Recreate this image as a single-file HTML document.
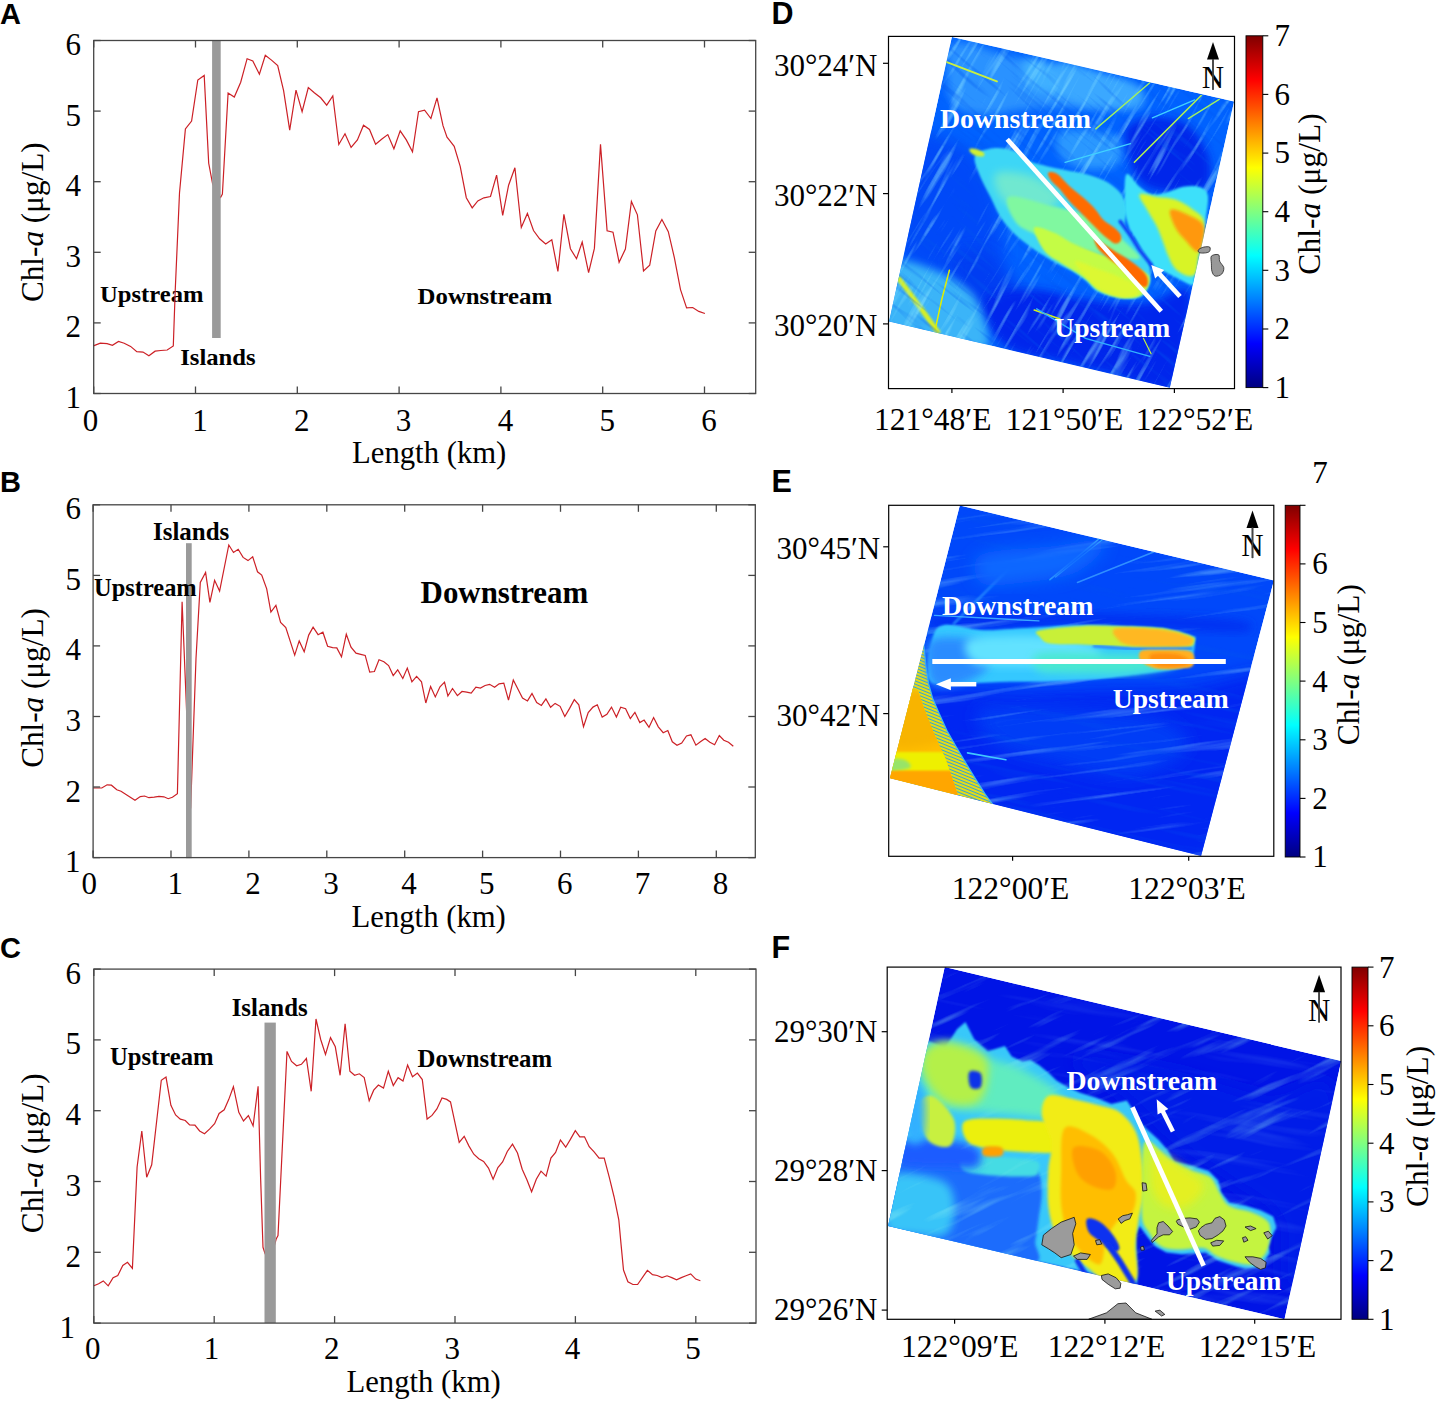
<!DOCTYPE html>
<html><head><meta charset="utf-8"><title>Figure</title>
<style>html,body{margin:0;padding:0;background:#fff;width:1437px;height:1401px;overflow:hidden}svg{display:block}</style>
</head><body>
<svg width="1437" height="1401" viewBox="0 0 1437 1401">
<rect width="1437" height="1401" fill="#fff"/>
<defs>
<filter id="b1" x="-20%" y="-20%" width="140%" height="140%"><feGaussianBlur stdDeviation="0.8"/></filter>
<filter id="b2" x="-20%" y="-20%" width="140%" height="140%"><feGaussianBlur stdDeviation="1.8"/></filter>
<filter id="b3" x="-20%" y="-20%" width="140%" height="140%"><feGaussianBlur stdDeviation="4"/></filter>
<filter id="b4" x="-20%" y="-20%" width="140%" height="140%"><feGaussianBlur stdDeviation="8"/></filter>
</defs>
<text x="0.0" y="24.3" font-family='"Liberation Sans", sans-serif' font-weight="bold" font-size="29">A</text>
<text x="0.0" y="491.7" font-family='"Liberation Sans", sans-serif' font-weight="bold" font-size="29">B</text>
<text x="0.0" y="958.3" font-family='"Liberation Sans", sans-serif' font-weight="bold" font-size="29">C</text>
<text x="771.5" y="24.2" font-family='"Liberation Sans", sans-serif' font-weight="bold" font-size="30.5">D</text>
<text x="771.5" y="491.9" font-family='"Liberation Sans", sans-serif' font-weight="bold" font-size="30.5">E</text>
<text x="771.5" y="957.6" font-family='"Liberation Sans", sans-serif' font-weight="bold" font-size="30.5">F</text>
<text x="100.0" y="302.4" font-family='"Liberation Serif", serif' font-weight="bold" font-size="23.7" textLength="103.5" lengthAdjust="spacingAndGlyphs">Upstream</text>
<text x="180.2" y="365.2" font-family='"Liberation Serif", serif' font-weight="bold" font-size="23.7" textLength="75.5" lengthAdjust="spacingAndGlyphs">Islands</text>
<text x="417.6" y="303.8" font-family='"Liberation Serif", serif' font-weight="bold" font-size="23.7" textLength="134.5" lengthAdjust="spacingAndGlyphs">Downstream</text>
<polyline points="93.4,345.9 100.3,343.2 107.1,343.7 112.4,345.3 118.5,341.4 124.2,343.2 130.6,346.4 136.8,351.6 143.0,352.1 148.9,355.8 155.1,351.2 160.8,350.5 167.2,350.0 173.3,345.9 175.2,291.1 179.5,193.0 185.4,129.0 191.6,121.0 197.8,80.0 204.2,75.4 208.7,163.3 212.6,183.8 216.5,192.0 220.6,197.5 222.4,194.1 228.1,93.0 234.3,97.1 240.7,82.2 247.1,58.7 252.8,61.0 259.4,74.2 265.3,55.3 271.5,60.1 277.7,65.6 283.6,90.7 289.7,130.2 296.0,90.2 302.1,111.7 308.3,87.5 314.3,92.8 320.7,97.8 326.7,105.2 332.8,96.0 338.8,144.5 345.0,133.8 351.1,147.4 357.4,139.9 363.5,125.2 369.5,129.5 375.6,144.2 381.6,139.2 387.8,134.6 393.9,148.8 400.2,130.9 406.3,139.9 412.5,151.8 418.5,111.7 424.6,110.2 430.9,118.5 437.0,97.8 443.0,125.7 447.0,137.1 449.2,139.9 454.2,146.4 460.2,166.3 466.3,197.7 472.2,207.9 477.8,200.9 483.9,197.8 490.5,196.5 496.6,175.2 502.7,215.3 508.6,185.2 514.9,167.8 521.3,227.5 527.4,213.4 533.5,230.5 539.6,238.8 545.7,243.9 551.8,239.7 557.9,271.4 563.9,214.3 570.4,248.7 576.5,258.7 582.2,242.1 588.6,272.7 594.4,248.4 600.5,144.4 607.1,230.8 613.0,232.2 619.1,262.3 625.4,249.1 631.4,201.4 637.4,214.8 643.5,271.0 649.7,265.3 655.8,231.0 661.9,219.5 668.3,231.7 674.4,257.8 680.5,289.6 686.6,307.9 692.7,307.5 698.8,311.4 704.9,313.5" fill="none" stroke="#cc2026" stroke-width="1.2" stroke-linejoin="miter"/>
<rect x="212.1" y="40.5" width="8.6" height="297.5" fill="#9a9a9a"/>
<rect x="93.7" y="40.5" width="662.0" height="353.0" fill="none" stroke="#464646" stroke-width="1.3"/>
<line x1="93.7" y1="393.5" x2="93.7" y2="386.5" stroke="#464646" stroke-width="1.3"/>
<line x1="93.7" y1="40.5" x2="93.7" y2="47.5" stroke="#464646" stroke-width="1.3"/>
<text x="90.5" y="430.9" font-family='"Liberation Serif", serif' font-size="31" text-anchor="middle">0</text>
<line x1="195.5" y1="393.5" x2="195.5" y2="386.5" stroke="#464646" stroke-width="1.3"/>
<line x1="195.5" y1="40.5" x2="195.5" y2="47.5" stroke="#464646" stroke-width="1.3"/>
<text x="200.0" y="430.9" font-family='"Liberation Serif", serif' font-size="31" text-anchor="middle">1</text>
<line x1="297.3" y1="393.5" x2="297.3" y2="386.5" stroke="#464646" stroke-width="1.3"/>
<line x1="297.3" y1="40.5" x2="297.3" y2="47.5" stroke="#464646" stroke-width="1.3"/>
<text x="301.8" y="430.9" font-family='"Liberation Serif", serif' font-size="31" text-anchor="middle">2</text>
<line x1="399.1" y1="393.5" x2="399.1" y2="386.5" stroke="#464646" stroke-width="1.3"/>
<line x1="399.1" y1="40.5" x2="399.1" y2="47.5" stroke="#464646" stroke-width="1.3"/>
<text x="403.6" y="430.9" font-family='"Liberation Serif", serif' font-size="31" text-anchor="middle">3</text>
<line x1="500.9" y1="393.5" x2="500.9" y2="386.5" stroke="#464646" stroke-width="1.3"/>
<line x1="500.9" y1="40.5" x2="500.9" y2="47.5" stroke="#464646" stroke-width="1.3"/>
<text x="505.4" y="430.9" font-family='"Liberation Serif", serif' font-size="31" text-anchor="middle">4</text>
<line x1="602.7" y1="393.5" x2="602.7" y2="386.5" stroke="#464646" stroke-width="1.3"/>
<line x1="602.7" y1="40.5" x2="602.7" y2="47.5" stroke="#464646" stroke-width="1.3"/>
<text x="607.2" y="430.9" font-family='"Liberation Serif", serif' font-size="31" text-anchor="middle">5</text>
<line x1="704.5" y1="393.5" x2="704.5" y2="386.5" stroke="#464646" stroke-width="1.3"/>
<line x1="704.5" y1="40.5" x2="704.5" y2="47.5" stroke="#464646" stroke-width="1.3"/>
<text x="709.0" y="430.9" font-family='"Liberation Serif", serif' font-size="31" text-anchor="middle">6</text>
<line x1="93.7" y1="393.5" x2="100.7" y2="393.5" stroke="#464646" stroke-width="1.3"/>
<line x1="755.7" y1="393.5" x2="748.7" y2="393.5" stroke="#464646" stroke-width="1.3"/>
<text x="81" y="408.0" font-family='"Liberation Serif", serif' font-size="31" text-anchor="end">1</text>
<line x1="93.7" y1="322.9" x2="100.7" y2="322.9" stroke="#464646" stroke-width="1.3"/>
<line x1="755.7" y1="322.9" x2="748.7" y2="322.9" stroke="#464646" stroke-width="1.3"/>
<text x="81" y="337.4" font-family='"Liberation Serif", serif' font-size="31" text-anchor="end">2</text>
<line x1="93.7" y1="252.3" x2="100.7" y2="252.3" stroke="#464646" stroke-width="1.3"/>
<line x1="755.7" y1="252.3" x2="748.7" y2="252.3" stroke="#464646" stroke-width="1.3"/>
<text x="81" y="266.8" font-family='"Liberation Serif", serif' font-size="31" text-anchor="end">3</text>
<line x1="93.7" y1="181.7" x2="100.7" y2="181.7" stroke="#464646" stroke-width="1.3"/>
<line x1="755.7" y1="181.7" x2="748.7" y2="181.7" stroke="#464646" stroke-width="1.3"/>
<text x="81" y="196.2" font-family='"Liberation Serif", serif' font-size="31" text-anchor="end">4</text>
<line x1="93.7" y1="111.1" x2="100.7" y2="111.1" stroke="#464646" stroke-width="1.3"/>
<line x1="755.7" y1="111.1" x2="748.7" y2="111.1" stroke="#464646" stroke-width="1.3"/>
<text x="81" y="125.6" font-family='"Liberation Serif", serif' font-size="31" text-anchor="end">5</text>
<line x1="93.7" y1="40.5" x2="100.7" y2="40.5" stroke="#464646" stroke-width="1.3"/>
<line x1="755.7" y1="40.5" x2="748.7" y2="40.5" stroke="#464646" stroke-width="1.3"/>
<text x="81" y="55.0" font-family='"Liberation Serif", serif' font-size="31" text-anchor="end">6</text>
<text x="429.2" y="462.6" font-family='"Liberation Serif", serif' font-size="30.7" text-anchor="middle">Length (km)</text>
<text transform="translate(42.5,222.2) rotate(-90)" x="0" y="0" font-family='"Liberation Serif", serif' font-size="31.2" text-anchor="middle">Chl-<tspan font-style="italic">a</tspan> (μg/L)</text>
<polyline points="93.2,788.0 101.8,788.0 107.1,784.8 111.4,785.2 116.8,789.7 121.0,791.2 135.0,800.2 140.3,796.6 144.6,796.0 148.9,797.7 154.2,797.2 159.0,796.4 163.9,796.8 168.2,798.7 172.4,797.2 177.4,793.8 182.1,601.7 190.6,808.4 196.0,658.5 200.3,582.5 205.6,572.4 209.9,602.4 214.6,580.3 219.6,591.0 228.8,545.0 233.5,552.5 238.2,549.3 243.1,557.4 248.0,560.6 252.7,556.8 257.5,571.8 261.7,575.0 266.7,588.9 270.9,612.0 275.9,605.4 280.6,622.5 285.8,627.6 294.7,655.1 299.2,640.9 304.2,651.8 308.7,635.1 313.1,627.2 318.1,634.7 322.9,632.2 327.6,646.3 332.6,647.6 336.8,647.9 341.5,656.8 346.3,634.2 351.0,647.1 356.0,653.1 360.7,654.3 365.2,655.4 369.7,672.2 374.4,671.5 379.0,659.8 383.9,661.8 388.6,665.6 393.2,675.5 397.7,669.8 402.8,678.5 407.3,668.1 411.9,681.8 416.6,676.3 421.5,681.8 425.8,703.0 430.6,686.5 435.3,696.9 440.0,686.8 444.5,682.2 447.9,696.0 452.5,688.5 457.4,695.7 462.0,691.5 466.7,692.2 471.2,693.2 475.9,687.2 480.4,688.0 485.1,685.5 489.6,684.3 494.6,687.2 499.1,683.8 503.8,683.2 508.5,700.2 513.3,680.0 518.0,689.2 522.5,698.1 527.5,700.9 532.0,693.4 536.7,702.6 541.4,705.4 545.9,698.9 550.6,707.3 555.1,703.4 560.1,706.3 564.8,716.5 569.6,708.4 574.3,699.6 578.8,704.8 583.5,726.8 588.2,712.6 593.0,707.1 597.3,704.8 602.2,717.1 606.9,714.3 611.5,707.1 616.4,717.1 620.7,707.3 625.6,708.8 630.3,718.5 634.9,712.3 639.8,722.6 644.1,720.1 649.0,727.3 653.6,717.6 658.3,726.8 663.2,732.7 667.8,730.5 672.3,741.8 677.0,745.2 681.7,743.0 686.5,736.0 690.9,734.8 695.9,745.2 700.4,741.8 705.1,738.5 709.9,742.3 714.6,744.7 719.3,735.5 723.8,740.2 728.5,742.3 733.3,746.3" fill="none" stroke="#cc2026" stroke-width="1.2" stroke-linejoin="miter"/>
<rect x="186.0" y="543.2" width="5.7" height="315.0" fill="#9a9a9a"/>
<text x="153.0" y="540.1" font-family='"Liberation Serif", serif' font-weight="bold" font-size="25.0" textLength="76.3" lengthAdjust="spacingAndGlyphs">Islands</text>
<text x="94.1" y="596.0" font-family='"Liberation Serif", serif' font-weight="bold" font-size="25.0" textLength="102.6" lengthAdjust="spacingAndGlyphs">Upstream</text>
<text x="420.6" y="603.1" font-family='"Liberation Serif", serif' font-weight="bold" font-size="30.8" textLength="167.6" lengthAdjust="spacingAndGlyphs">Downstream</text>
<rect x="93.1" y="504.8" width="662.2" height="352.8" fill="none" stroke="#464646" stroke-width="1.3"/>
<line x1="93.1" y1="857.6" x2="93.1" y2="850.6" stroke="#464646" stroke-width="1.3"/>
<line x1="93.1" y1="504.8" x2="93.1" y2="511.8" stroke="#464646" stroke-width="1.3"/>
<text x="89.3" y="894.3" font-family='"Liberation Serif", serif' font-size="31" text-anchor="middle">0</text>
<line x1="171.0" y1="857.6" x2="171.0" y2="850.6" stroke="#464646" stroke-width="1.3"/>
<line x1="171.0" y1="504.8" x2="171.0" y2="511.8" stroke="#464646" stroke-width="1.3"/>
<text x="175.2" y="894.3" font-family='"Liberation Serif", serif' font-size="31" text-anchor="middle">1</text>
<line x1="248.9" y1="857.6" x2="248.9" y2="850.6" stroke="#464646" stroke-width="1.3"/>
<line x1="248.9" y1="504.8" x2="248.9" y2="511.8" stroke="#464646" stroke-width="1.3"/>
<text x="253.1" y="894.3" font-family='"Liberation Serif", serif' font-size="31" text-anchor="middle">2</text>
<line x1="326.8" y1="857.6" x2="326.8" y2="850.6" stroke="#464646" stroke-width="1.3"/>
<line x1="326.8" y1="504.8" x2="326.8" y2="511.8" stroke="#464646" stroke-width="1.3"/>
<text x="331.0" y="894.3" font-family='"Liberation Serif", serif' font-size="31" text-anchor="middle">3</text>
<line x1="404.7" y1="857.6" x2="404.7" y2="850.6" stroke="#464646" stroke-width="1.3"/>
<line x1="404.7" y1="504.8" x2="404.7" y2="511.8" stroke="#464646" stroke-width="1.3"/>
<text x="408.9" y="894.3" font-family='"Liberation Serif", serif' font-size="31" text-anchor="middle">4</text>
<line x1="482.6" y1="857.6" x2="482.6" y2="850.6" stroke="#464646" stroke-width="1.3"/>
<line x1="482.6" y1="504.8" x2="482.6" y2="511.8" stroke="#464646" stroke-width="1.3"/>
<text x="486.8" y="894.3" font-family='"Liberation Serif", serif' font-size="31" text-anchor="middle">5</text>
<line x1="560.5" y1="857.6" x2="560.5" y2="850.6" stroke="#464646" stroke-width="1.3"/>
<line x1="560.5" y1="504.8" x2="560.5" y2="511.8" stroke="#464646" stroke-width="1.3"/>
<text x="564.7" y="894.3" font-family='"Liberation Serif", serif' font-size="31" text-anchor="middle">6</text>
<line x1="638.4" y1="857.6" x2="638.4" y2="850.6" stroke="#464646" stroke-width="1.3"/>
<line x1="638.4" y1="504.8" x2="638.4" y2="511.8" stroke="#464646" stroke-width="1.3"/>
<text x="642.6" y="894.3" font-family='"Liberation Serif", serif' font-size="31" text-anchor="middle">7</text>
<line x1="716.3" y1="857.6" x2="716.3" y2="850.6" stroke="#464646" stroke-width="1.3"/>
<line x1="716.3" y1="504.8" x2="716.3" y2="511.8" stroke="#464646" stroke-width="1.3"/>
<text x="720.5" y="894.3" font-family='"Liberation Serif", serif' font-size="31" text-anchor="middle">8</text>
<line x1="93.1" y1="857.6" x2="100.1" y2="857.6" stroke="#464646" stroke-width="1.3"/>
<line x1="755.3" y1="857.6" x2="748.3" y2="857.6" stroke="#464646" stroke-width="1.3"/>
<text x="80.5" y="872.1" font-family='"Liberation Serif", serif' font-size="31" text-anchor="end">1</text>
<line x1="93.1" y1="787.0" x2="100.1" y2="787.0" stroke="#464646" stroke-width="1.3"/>
<line x1="755.3" y1="787.0" x2="748.3" y2="787.0" stroke="#464646" stroke-width="1.3"/>
<text x="81" y="801.5" font-family='"Liberation Serif", serif' font-size="31" text-anchor="end">2</text>
<line x1="93.1" y1="716.5" x2="100.1" y2="716.5" stroke="#464646" stroke-width="1.3"/>
<line x1="755.3" y1="716.5" x2="748.3" y2="716.5" stroke="#464646" stroke-width="1.3"/>
<text x="81" y="731.0" font-family='"Liberation Serif", serif' font-size="31" text-anchor="end">3</text>
<line x1="93.1" y1="645.9" x2="100.1" y2="645.9" stroke="#464646" stroke-width="1.3"/>
<line x1="755.3" y1="645.9" x2="748.3" y2="645.9" stroke="#464646" stroke-width="1.3"/>
<text x="81" y="660.4" font-family='"Liberation Serif", serif' font-size="31" text-anchor="end">4</text>
<line x1="93.1" y1="575.4" x2="100.1" y2="575.4" stroke="#464646" stroke-width="1.3"/>
<line x1="755.3" y1="575.4" x2="748.3" y2="575.4" stroke="#464646" stroke-width="1.3"/>
<text x="81" y="589.9" font-family='"Liberation Serif", serif' font-size="31" text-anchor="end">5</text>
<line x1="93.1" y1="504.8" x2="100.1" y2="504.8" stroke="#464646" stroke-width="1.3"/>
<line x1="755.3" y1="504.8" x2="748.3" y2="504.8" stroke="#464646" stroke-width="1.3"/>
<text x="81" y="519.3" font-family='"Liberation Serif", serif' font-size="31" text-anchor="end">6</text>
<text x="428.7" y="926.7" font-family='"Liberation Serif", serif' font-size="30.7" text-anchor="middle">Length (km)</text>
<text transform="translate(42.5,688.0) rotate(-90)" x="0" y="0" font-family='"Liberation Serif", serif' font-size="31.2" text-anchor="middle">Chl-<tspan font-style="italic">a</tspan> (μg/L)</text>
<polyline points="93.9,1285.8 98.6,1283.7 103.3,1280.9 108.2,1285.8 113.1,1277.7 117.8,1275.5 122.8,1265.5 127.5,1262.3 132.4,1268.3 137.1,1167.0 141.8,1131.0 146.7,1177.3 151.7,1164.8 161.3,1080.3 166.0,1077.1 170.9,1105.3 175.6,1115.0 180.3,1119.2 185.3,1120.5 189.6,1124.8 194.9,1125.2 199.6,1131.0 204.5,1133.8 209.5,1129.1 214.6,1123.7 219.1,1113.5 224.2,1109.8 228.7,1099.6 233.4,1086.7 238.8,1112.4 243.5,1121.0 248.4,1115.6 253.1,1125.9 258.1,1086.3 260.6,1177.7 263.0,1247.3 265.1,1253.7 270.0,1262.0 276.3,1238.7 278.0,1235.5 287.0,1051.4 291.5,1061.4 296.6,1065.8 301.4,1064.3 306.4,1058.5 311.2,1091.3 316.0,1019.0 320.7,1039.5 325.5,1054.4 330.5,1037.6 335.3,1046.8 340.1,1075.3 345.1,1023.8 349.9,1071.2 354.6,1075.3 359.4,1073.8 364.2,1077.5 369.2,1100.8 373.7,1090.2 378.4,1085.0 383.5,1088.1 388.3,1071.2 393.3,1085.5 398.1,1077.7 403.0,1081.1 407.6,1065.0 412.5,1076.7 417.4,1073.1 422.3,1079.6 427.1,1119.1 432.0,1115.4 436.9,1108.9 442.0,1097.9 446.7,1099.4 450.5,1101.9 459.2,1142.5 464.2,1136.3 469.0,1146.1 473.8,1154.2 478.8,1158.8 483.6,1161.5 488.5,1168.1 493.1,1179.2 497.9,1167.5 502.6,1162.0 507.3,1151.5 512.5,1144.1 517.5,1153.0 522.2,1169.2 526.9,1179.7 531.6,1191.8 536.3,1179.2 541.0,1171.1 546.1,1176.1 550.9,1158.0 555.6,1152.5 560.4,1140.0 565.7,1147.2 570.4,1139.4 575.3,1130.7 579.8,1136.8 584.5,1136.8 589.2,1146.7 594.1,1151.9 599.1,1158.2 604.2,1158.2 609.3,1177.4 614.1,1197.0 618.8,1219.8 621.1,1244.9 623.5,1270.0 627.9,1281.8 632.9,1284.5 637.6,1284.5 647.4,1270.3 652.5,1274.7 657.2,1275.5 662.0,1277.6 667.0,1275.8 671.8,1277.6 676.6,1279.9 681.3,1277.6 686.0,1275.8 690.7,1273.9 695.7,1279.1 700.4,1280.7" fill="none" stroke="#cc2026" stroke-width="1.2" stroke-linejoin="miter"/>
<rect x="264.5" y="1022.6" width="11.3" height="300.4" fill="#9a9a9a"/>
<text x="231.7" y="1016.3" font-family='"Liberation Serif", serif' font-weight="bold" font-size="25.5" textLength="76.0" lengthAdjust="spacingAndGlyphs">Islands</text>
<text x="110.0" y="1065.0" font-family='"Liberation Serif", serif' font-weight="bold" font-size="25.5" textLength="103.5" lengthAdjust="spacingAndGlyphs">Upstream</text>
<text x="417.6" y="1066.8" font-family='"Liberation Serif", serif' font-weight="bold" font-size="25.5" textLength="134.5" lengthAdjust="spacingAndGlyphs">Downstream</text>
<rect x="93.8" y="969.1" width="662.2" height="354.0" fill="none" stroke="#464646" stroke-width="1.3"/>
<line x1="93.8" y1="1323.1" x2="93.8" y2="1316.1" stroke="#464646" stroke-width="1.3"/>
<line x1="93.8" y1="969.1" x2="93.8" y2="976.1" stroke="#464646" stroke-width="1.3"/>
<text x="92.7" y="1358.5" font-family='"Liberation Serif", serif' font-size="31" text-anchor="middle">0</text>
<line x1="214.2" y1="1323.1" x2="214.2" y2="1316.1" stroke="#464646" stroke-width="1.3"/>
<line x1="214.2" y1="969.1" x2="214.2" y2="976.1" stroke="#464646" stroke-width="1.3"/>
<text x="211.4" y="1358.5" font-family='"Liberation Serif", serif' font-size="31" text-anchor="middle">1</text>
<line x1="334.6" y1="1323.1" x2="334.6" y2="1316.1" stroke="#464646" stroke-width="1.3"/>
<line x1="334.6" y1="969.1" x2="334.6" y2="976.1" stroke="#464646" stroke-width="1.3"/>
<text x="331.8" y="1358.5" font-family='"Liberation Serif", serif' font-size="31" text-anchor="middle">2</text>
<line x1="455.0" y1="1323.1" x2="455.0" y2="1316.1" stroke="#464646" stroke-width="1.3"/>
<line x1="455.0" y1="969.1" x2="455.0" y2="976.1" stroke="#464646" stroke-width="1.3"/>
<text x="452.2" y="1358.5" font-family='"Liberation Serif", serif' font-size="31" text-anchor="middle">3</text>
<line x1="575.4" y1="1323.1" x2="575.4" y2="1316.1" stroke="#464646" stroke-width="1.3"/>
<line x1="575.4" y1="969.1" x2="575.4" y2="976.1" stroke="#464646" stroke-width="1.3"/>
<text x="572.6" y="1358.5" font-family='"Liberation Serif", serif' font-size="31" text-anchor="middle">4</text>
<line x1="695.8" y1="1323.1" x2="695.8" y2="1316.1" stroke="#464646" stroke-width="1.3"/>
<line x1="695.8" y1="969.1" x2="695.8" y2="976.1" stroke="#464646" stroke-width="1.3"/>
<text x="693.0" y="1358.5" font-family='"Liberation Serif", serif' font-size="31" text-anchor="middle">5</text>
<line x1="93.8" y1="1323.1" x2="100.8" y2="1323.1" stroke="#464646" stroke-width="1.3"/>
<line x1="756.0" y1="1323.1" x2="749.0" y2="1323.1" stroke="#464646" stroke-width="1.3"/>
<text x="75" y="1337.6" font-family='"Liberation Serif", serif' font-size="31" text-anchor="end">1</text>
<line x1="93.8" y1="1252.3" x2="100.8" y2="1252.3" stroke="#464646" stroke-width="1.3"/>
<line x1="756.0" y1="1252.3" x2="749.0" y2="1252.3" stroke="#464646" stroke-width="1.3"/>
<text x="81" y="1266.8" font-family='"Liberation Serif", serif' font-size="31" text-anchor="end">2</text>
<line x1="93.8" y1="1181.5" x2="100.8" y2="1181.5" stroke="#464646" stroke-width="1.3"/>
<line x1="756.0" y1="1181.5" x2="749.0" y2="1181.5" stroke="#464646" stroke-width="1.3"/>
<text x="81" y="1196.0" font-family='"Liberation Serif", serif' font-size="31" text-anchor="end">3</text>
<line x1="93.8" y1="1110.7" x2="100.8" y2="1110.7" stroke="#464646" stroke-width="1.3"/>
<line x1="756.0" y1="1110.7" x2="749.0" y2="1110.7" stroke="#464646" stroke-width="1.3"/>
<text x="81" y="1125.2" font-family='"Liberation Serif", serif' font-size="31" text-anchor="end">4</text>
<line x1="93.8" y1="1039.9" x2="100.8" y2="1039.9" stroke="#464646" stroke-width="1.3"/>
<line x1="756.0" y1="1039.9" x2="749.0" y2="1039.9" stroke="#464646" stroke-width="1.3"/>
<text x="81" y="1054.4" font-family='"Liberation Serif", serif' font-size="31" text-anchor="end">5</text>
<line x1="93.8" y1="969.1" x2="100.8" y2="969.1" stroke="#464646" stroke-width="1.3"/>
<line x1="756.0" y1="969.1" x2="749.0" y2="969.1" stroke="#464646" stroke-width="1.3"/>
<text x="81" y="983.6" font-family='"Liberation Serif", serif' font-size="31" text-anchor="end">6</text>
<text x="423.6" y="1392.2" font-family='"Liberation Serif", serif' font-size="30.7" text-anchor="middle">Length (km)</text>
<text transform="translate(42.5,1153.3) rotate(-90)" x="0" y="0" font-family='"Liberation Serif", serif' font-size="31.2" text-anchor="middle">Chl-<tspan font-style="italic">a</tspan> (μg/L)</text>
<defs><clipPath id="clipD"><polygon points="951.9,36.9 1234.1,101.4 1169.8,387.7 889.0,321.6"/></clipPath></defs>
<g clip-path="url(#clipD)">
<polygon points="951.9,36.9 1234.1,101.4 1169.8,387.7 889.0,321.6" fill="#0062ff" />
<path d="M905.7,137.9 C916.0,126.8 943.4,137.1 957.1,143.1 C970.8,149.0 980.6,160.2 987.9,173.9 C995.2,187.6 998.2,210.7 1000.8,225.3 C1003.3,239.8 1006.3,251.0 1003.3,261.2 C1000.3,271.5 992.6,284.4 982.8,286.9 C972.9,289.5 957.1,280.9 944.2,276.7 C931.4,272.4 913.8,272.4 905.7,261.2 C897.6,250.1 895.4,230.4 895.4,209.9 C895.4,189.3 895.4,149.0 905.7,137.9 Z" fill="#004af8" filter="url(#b4)"/>
<path d="M954.5,42.8 C964.8,38.6 990.9,51.8 1008.5,55.7 C1026.0,59.5 1044.9,62.5 1059.9,66.0 C1074.8,69.4 1085.5,72.6 1098.4,76.2 C1111.2,79.9 1130.1,82.7 1136.9,87.8 C1143.8,92.9 1145.9,103.4 1139.5,107.1 C1133.1,110.7 1111.7,109.7 1098.4,109.7 C1085.1,109.7 1072.7,107.1 1059.9,107.1 C1047.0,107.1 1033.3,108.4 1021.3,109.7 C1009.3,110.9 998.6,115.2 987.9,114.8 C977.2,114.4 963.9,112.6 957.1,107.1 C950.2,101.5 947.2,92.1 946.8,81.4 C946.4,70.7 944.2,47.1 954.5,42.8 Z" fill="#2c92ff" filter="url(#b3)"/>
<path d="M1023.9,60.8 C1028.2,57.4 1047.4,65.5 1059.9,68.5 C1072.3,71.5 1087.7,75.8 1098.4,78.8 C1109.1,81.8 1121.9,83.5 1124.1,86.5 C1126.2,89.5 1119.8,95.5 1111.2,96.8 C1102.7,98.1 1085.5,95.5 1072.7,94.2 C1059.9,92.9 1042.3,94.7 1034.2,89.1 C1026.0,83.5 1019.6,64.3 1023.9,60.8 Z" fill="#40b0ff" filter="url(#b3)"/>
<path d="M1059.9,63.4 C1066.7,61.3 1085.5,69.8 1098.4,73.7 C1111.2,77.5 1130.1,81.4 1136.9,86.5 C1143.8,91.7 1143.8,101.1 1139.5,104.5 C1135.2,107.9 1121.9,107.5 1111.2,107.1 C1100.5,106.7 1084.3,105.4 1075.3,101.9 C1066.3,98.5 1059.9,92.9 1057.3,86.5 C1054.7,80.1 1053.0,65.5 1059.9,63.4 Z" fill="#3aa8ff" filter="url(#b3)"/>
<path d="M1059.9,132.8 C1064.6,129.3 1075.9,129.3 1085.5,130.2 C1095.2,131.1 1111.7,133.2 1117.7,137.9 C1123.7,142.6 1123.4,153.3 1121.5,158.5 C1119.6,163.6 1113.8,167.5 1106.1,168.7 C1098.4,170.0 1083.4,169.2 1075.3,166.2 C1067.1,163.2 1059.9,156.3 1057.3,150.8 C1054.7,145.2 1055.1,136.2 1059.9,132.8 Z" fill="#2c98ff" filter="url(#b3)"/>
<path d="M1126.7,127.6 C1130.5,122.9 1141.6,118.6 1149.8,117.4 C1157.9,116.1 1168.6,118.2 1175.5,119.9 C1182.3,121.6 1186.2,123.4 1190.9,127.6 C1195.6,131.9 1200.5,139.6 1203.7,145.6 C1207.0,151.6 1209.7,156.8 1210.2,163.6 C1210.6,170.5 1212.1,182.0 1206.3,186.7 C1200.5,191.4 1184.9,191.7 1175.5,191.9 C1166.1,192.1 1156.6,191.0 1149.8,188.0 C1142.9,185.0 1138.2,181.0 1134.4,173.9 C1130.5,166.8 1127.9,153.3 1126.7,145.6 C1125.4,137.9 1122.8,132.3 1126.7,127.6 Z" fill="#0028ea" filter="url(#b3)"/>
<path d="M951.9,256.1 C956.2,250.1 973.4,248.0 982.8,251.0 C992.2,254.0 1001.6,266.0 1008.5,274.1 C1015.3,282.2 1023.9,292.9 1023.9,299.8 C1023.9,306.6 1016.2,313.1 1008.5,315.2 C1000.8,317.3 986.2,317.3 977.6,312.6 C969.1,307.9 961.4,296.4 957.1,286.9 C952.8,277.5 947.7,262.1 951.9,256.1 Z" fill="#003cf2" filter="url(#b4)"/>
<path d="M987.9,297.2 C995.6,291.2 1020.0,289.5 1034.2,289.5 C1048.3,289.5 1059.9,295.1 1072.7,297.2 C1085.5,299.4 1098.4,301.5 1111.2,302.4 C1124.1,303.2 1136.9,304.5 1149.8,302.4 C1162.6,300.2 1181.9,283.5 1188.3,289.5 C1194.7,295.5 1190.9,321.6 1188.3,338.3 C1185.8,355.0 1185.8,383.7 1172.9,389.7 C1160.1,395.7 1130.1,379.0 1111.2,374.3 C1092.4,369.6 1076.1,365.3 1059.9,361.4 C1043.6,357.6 1025.6,357.2 1013.6,351.2 C1001.6,345.2 992.2,334.5 987.9,325.5 C983.6,316.5 980.2,303.2 987.9,297.2 Z" fill="#0026ec" filter="url(#b3)"/>
<path d="M885.1,276.7 C887.7,266.0 892.8,262.5 900.6,261.2 C908.3,260.0 922.0,265.5 931.4,269.0 C940.8,272.4 949.4,276.2 957.1,281.8 C964.8,287.4 972.5,291.6 977.6,302.4 C982.8,313.1 991.3,338.8 987.9,346.0 C984.5,353.3 968.6,347.7 957.1,346.0 C945.5,344.3 930.5,339.2 918.5,335.8 C906.6,332.3 890.7,335.3 885.1,325.5 C879.6,315.6 882.6,287.4 885.1,276.7 Z" fill="#3ab4f8" filter="url(#b3)"/>
<polyline points="899.3,279.2 918.5,304.9 937.8,331.9" fill="none" stroke="#d8f020" stroke-width="5" stroke-linecap="round" filter="url(#b1)"/>
<polyline points="949.4,270.2 941.7,299.8 935.2,329.3" fill="none" stroke="#e0f000" stroke-width="1.5" stroke-linecap="round" />
<filter id="txD1" filterUnits="userSpaceOnUse" x="801.0" y="-48.0" width="520" height="520"><feTurbulence type="fractalNoise" baseFrequency="0.015 0.2" numOctaves="2" seed="3"/><feColorMatrix type="matrix" values="0 0 0 0 0.282 0 0 0 0 0.816 0 0 0 0 1.000 4.0 0 0 0 -2.2"/></filter>
<g transform="rotate(-60 1061 212)"><rect x="801.0" y="-48.0" width="520" height="520" filter="url(#txD1)" opacity="0.45"/></g>
<filter id="txD2" filterUnits="userSpaceOnUse" x="801.0" y="-48.0" width="520" height="520"><feTurbulence type="fractalNoise" baseFrequency="0.015 0.18" numOctaves="2" seed="11"/><feColorMatrix type="matrix" values="0 0 0 0 0.000 0 0 0 0 0.094 0 0 0 0 0.863 4.0 0 0 0 -2.2"/></filter>
<g transform="rotate(40 1061 212)"><rect x="801.0" y="-48.0" width="520" height="520" filter="url(#txD2)" opacity="0.35"/></g>
<path d="M975.1,155.9 C977.2,151.2 986.6,149.0 993.1,148.2 C999.5,147.3 1007.6,148.6 1013.6,150.8 C1019.6,152.9 1023.5,158.5 1029.0,161.0 C1034.6,163.6 1041.0,164.7 1047.0,166.2 C1053.0,167.7 1058.6,168.7 1065.0,170.0 C1071.4,171.3 1078.7,172.0 1085.5,173.9 C1092.4,175.8 1100.1,178.2 1106.1,181.6 C1112.1,185.0 1118.1,189.7 1121.5,194.4 C1124.9,199.2 1126.0,204.7 1126.7,209.9 C1127.3,215.0 1123.7,219.7 1125.4,225.3 C1127.1,230.8 1133.3,238.1 1136.9,243.3 C1140.6,248.4 1145.0,251.0 1147.2,256.1 C1149.4,261.2 1150.1,269.0 1150.3,274.1 C1150.5,279.2 1150.3,283.1 1148.5,286.9 C1146.7,290.8 1144.0,295.3 1139.5,297.2 C1135.0,299.1 1128.4,299.4 1121.5,298.5 C1114.7,297.6 1104.4,295.1 1098.4,292.1 C1092.4,289.1 1089.8,283.9 1085.5,280.5 C1081.3,277.1 1077.0,274.1 1072.7,271.5 C1068.4,269.0 1064.6,267.7 1059.9,265.1 C1055.1,262.5 1049.6,259.3 1044.4,256.1 C1039.3,252.9 1034.2,249.7 1029.0,245.8 C1023.9,242.0 1018.3,237.7 1013.6,233.0 C1008.9,228.3 1004.6,223.6 1000.8,217.6 C996.9,211.6 993.9,203.9 990.5,197.0 C987.1,190.2 982.8,183.3 980.2,176.5 C977.6,169.6 972.9,160.6 975.1,155.9 Z" fill="#3cd6f6" filter="url(#b1)"/>
<path d="M995.6,173.9 C999.5,170.0 1015.3,172.2 1023.9,173.9 C1032.4,175.6 1041.0,180.3 1047.0,184.2 C1053.0,188.0 1059.9,192.7 1059.9,197.0 C1059.9,201.3 1053.4,207.7 1047.0,209.9 C1040.6,212.0 1029.0,212.0 1021.3,209.9 C1013.6,207.7 1005.0,203.0 1000.8,197.0 C996.5,191.0 991.8,177.7 995.6,173.9 Z" fill="#70e8d0" filter="url(#b3)"/>
<path d="M1008.5,197.0 C1013.6,194.0 1034.2,201.7 1047.0,204.7 C1059.9,207.7 1074.8,210.7 1085.5,215.0 C1096.3,219.3 1104.4,225.7 1111.2,230.4 C1118.1,235.1 1121.9,238.5 1126.7,243.3 C1131.4,248.0 1142.1,256.5 1139.5,258.7 C1136.9,260.8 1122.4,258.2 1111.2,256.1 C1100.1,254.0 1084.7,249.3 1072.7,245.8 C1060.7,242.4 1048.7,239.4 1039.3,235.5 C1029.9,231.7 1021.3,229.1 1016.2,222.7 C1011.0,216.3 1003.3,200.0 1008.5,197.0 Z" fill="#80f8a0" filter="url(#b2)"/>
<path d="M1034.2,227.8 C1035.9,224.8 1048.3,230.4 1054.7,233.0 C1061.1,235.5 1065.4,239.8 1072.7,243.3 C1080.0,246.7 1090.3,250.5 1098.4,253.5 C1106.5,256.5 1114.7,258.7 1121.5,261.2 C1128.4,263.8 1134.9,266.4 1139.5,269.0 C1144.1,271.5 1147.9,273.7 1149.3,276.7 C1150.6,279.7 1149.4,283.7 1147.7,286.9 C1146.1,290.2 1143.9,294.4 1139.5,296.2 C1135.1,298.0 1128.2,298.6 1121.5,297.7 C1114.9,296.8 1105.5,293.8 1099.7,290.8 C1093.9,287.8 1091.1,283.0 1086.8,279.7 C1082.6,276.4 1078.5,273.9 1074.0,271.0 C1069.5,268.1 1064.8,265.9 1059.9,262.5 C1054.9,259.2 1048.7,256.7 1044.4,251.0 C1040.2,245.2 1032.4,230.8 1034.2,227.8 Z" fill="#c4fc44" filter="url(#b1)"/>
<path d="M1075.3,261.2 C1077.4,260.0 1091.1,266.4 1098.4,269.0 C1105.7,271.5 1113.0,274.1 1119.0,276.7 C1124.9,279.2 1131.2,281.4 1134.4,284.4 C1137.6,287.4 1140.4,292.5 1138.2,294.6 C1136.1,296.8 1127.7,297.9 1121.5,297.2 C1115.3,296.6 1107.0,294.2 1101.0,290.8 C1095.0,287.4 1089.8,281.6 1085.5,276.7 C1081.3,271.7 1073.1,262.5 1075.3,261.2 Z" fill="#dcf830" filter="url(#b2)"/>
<path d="M969.9,148.7 C971.1,148.2 975.3,148.7 977.6,149.5 C980.0,150.2 983.2,152.2 984.1,153.3 C984.9,154.5 984.3,156.1 982.8,156.4 C981.3,156.8 977.1,156.1 975.1,155.4 C973.0,154.7 971.3,153.4 970.4,152.3 C969.6,151.2 968.7,149.2 969.9,148.7 Z" fill="#d0f030" filter="url(#b1)"/>
<path d="M1048.3,172.6 C1049.4,171.5 1053.6,171.5 1057.3,173.9 C1060.9,176.2 1065.4,182.4 1070.1,186.7 C1074.8,191.0 1081.3,195.7 1085.5,199.6 C1089.8,203.4 1092.8,206.4 1095.8,209.9 C1098.8,213.3 1100.5,217.1 1103.5,220.1 C1106.6,223.1 1111.5,225.4 1114.3,227.8 C1117.2,230.2 1119.5,232.3 1120.5,234.5 C1121.5,236.7 1121.3,239.4 1120.5,240.9 C1119.6,242.4 1117.3,243.8 1115.4,243.5 C1113.4,243.3 1111.1,241.2 1108.7,239.4 C1106.3,237.6 1103.5,235.3 1101.0,233.0 C1098.4,230.6 1096.3,228.3 1093.3,225.3 C1090.3,222.3 1086.8,218.8 1083.0,215.0 C1079.1,211.1 1074.0,206.4 1070.1,202.1 C1066.3,197.9 1063.1,192.9 1059.9,189.3 C1056.6,185.7 1052.8,183.1 1050.9,180.3 C1048.9,177.5 1047.2,173.7 1048.3,172.6 Z" fill="#ff6c00" filter="url(#b1)"/>
<path d="M1094.5,238.6 C1095.5,237.9 1099.9,241.5 1103.5,243.8 C1107.2,246.0 1112.1,249.6 1116.4,252.3 C1120.7,254.9 1125.2,257.2 1129.2,260.0 C1133.3,262.7 1137.8,266.1 1140.8,269.0 C1143.8,271.8 1146.1,274.4 1147.2,277.2 C1148.3,280.0 1148.1,284.1 1147.2,285.7 C1146.4,287.2 1144.0,287.2 1142.1,286.4 C1140.1,285.7 1138.4,283.6 1135.7,281.3 C1132.9,279.0 1128.4,275.5 1125.4,272.8 C1122.4,270.1 1120.7,267.7 1117.7,265.1 C1114.7,262.5 1110.7,260.2 1107.4,257.4 C1104.1,254.6 1100.0,251.5 1097.9,248.4 C1095.7,245.3 1093.6,239.4 1094.5,238.6 Z" fill="#ff6800" filter="url(#b1)"/>
<path d="M1126.7,173.9 C1129.1,172.2 1135.2,183.3 1139.5,186.7 C1143.8,190.2 1147.6,193.6 1152.4,194.4 C1157.1,195.3 1162.6,193.2 1167.8,191.9 C1172.9,190.6 1178.0,187.6 1183.2,186.7 C1188.3,185.9 1194.5,185.4 1198.6,186.7 C1202.7,188.0 1206.3,189.7 1207.6,194.4 C1208.9,199.2 1207.2,208.1 1206.3,215.0 C1205.5,221.8 1203.7,228.7 1202.5,235.5 C1201.2,242.4 1199.9,249.3 1198.6,256.1 C1197.3,263.0 1195.8,271.8 1194.7,276.7 C1193.7,281.5 1195.6,285.1 1192.4,285.1 C1189.2,285.2 1180.4,279.6 1175.5,277.2 C1170.5,274.8 1166.6,272.8 1162.6,270.8 C1158.7,268.7 1154.8,267.6 1151.8,264.8 C1148.8,262.1 1147.1,258.0 1144.6,254.0 C1142.2,250.1 1139.4,245.5 1136.9,241.2 C1134.5,236.9 1131.6,232.7 1129.7,228.4 C1127.9,224.0 1126.5,220.2 1125.6,215.0 C1124.8,209.8 1124.4,203.9 1124.6,197.0 C1124.8,190.2 1124.2,175.6 1126.7,173.9 Z" fill="#3ce0fa" filter="url(#b1)"/>
<path d="M1139.5,194.4 C1141.2,192.3 1151.5,196.2 1157.5,197.0 C1163.5,197.9 1169.5,197.4 1175.5,199.6 C1181.5,201.7 1188.8,206.4 1193.5,209.9 C1198.2,213.3 1202.2,215.0 1203.7,220.1 C1205.2,225.3 1203.3,234.7 1202.5,240.7 C1201.6,246.7 1199.7,250.8 1198.6,256.1 C1197.5,261.5 1197.7,269.5 1196.0,272.8 C1194.3,276.1 1191.8,276.8 1188.3,276.1 C1184.9,275.5 1178.8,272.3 1175.5,269.0 C1172.1,265.6 1170.4,260.8 1168.3,256.1 C1166.1,251.4 1164.6,245.8 1162.6,240.7 C1160.6,235.5 1158.8,230.4 1156.2,225.3 C1153.6,220.1 1150.0,215.0 1147.2,209.9 C1144.4,204.7 1137.8,196.6 1139.5,194.4 Z" fill="#d8f428" filter="url(#b2)"/>
<path d="M1170.3,209.9 C1172.5,207.7 1182.8,212.4 1188.3,215.0 C1193.8,217.6 1201.0,220.1 1203.2,225.3 C1205.5,230.4 1202.8,241.5 1201.7,245.8 C1200.6,250.2 1199.2,252.3 1196.5,251.5 C1193.9,250.6 1189.3,244.6 1185.8,240.7 C1182.2,236.7 1178.0,233.0 1175.5,227.8 C1172.9,222.7 1168.2,212.0 1170.3,209.9 Z" fill="#ff9810" filter="url(#b2)"/>
<polyline points="1120.2,221.4 1130.5,235.5 1139.5,249.9 1151.3,264.8" fill="none" stroke="#0a40f4" stroke-width="3.5" stroke-linecap="round" filter="url(#b1)"/>
<polyline points="946.8,62.1 996.9,81.4" fill="none" stroke="#c8f040" stroke-width="2.0" stroke-linecap="round" />
<polyline points="1095.8,128.9 1149.8,82.7" fill="none" stroke="#a0f060" stroke-width="1.4" stroke-linecap="round" />
<polyline points="1134.4,162.3 1201.2,95.5" fill="none" stroke="#b0f050" stroke-width="1.6" stroke-linecap="round" />
<polyline points="1188.3,118.6 1219.2,99.4" fill="none" stroke="#a0f060" stroke-width="1.4" stroke-linecap="round" />
<polyline points="1065.0,162.3 1130.5,143.6" fill="none" stroke="#40d0ff" stroke-width="1.3" stroke-linecap="round" />
<polyline points="1152.4,117.9 1194.7,99.9" fill="none" stroke="#40d0ff" stroke-width="1.3" stroke-linecap="round" />
<polyline points="1143.4,338.3 1151.1,353.7" fill="none" stroke="#c0f040" stroke-width="1.2" stroke-linecap="round" />
<polyline points="1034.2,310.1 1059.9,319.1" fill="none" stroke="#d0f020" stroke-width="1.6" stroke-linecap="round" />
<polyline points="1036.7,308.8 1085.5,338.3 1149.8,356.3" fill="none" stroke="#30b0ff" stroke-width="1.4" stroke-linecap="round" />
</g>
<path d="M1198.6,249.7 C1199.4,248.8 1201.9,247.5 1203.7,247.1 C1205.6,246.7 1208.7,246.4 1209.7,247.1 C1210.6,247.8 1210.3,250.5 1209.4,251.5 C1208.5,252.5 1206.0,252.9 1204.3,253.0 C1202.5,253.2 1200.1,253.1 1199.1,252.5 C1198.2,252.0 1197.8,250.6 1198.6,249.7 Z" fill="#999" stroke="#222" stroke-width="0.8"/>
<path d="M1211.4,256.1 C1212.6,254.6 1217.3,254.0 1218.6,254.8 C1220.0,255.7 1218.8,259.1 1219.7,261.2 C1220.5,263.4 1223.4,265.5 1223.8,267.7 C1224.1,269.8 1223.1,272.7 1221.7,274.1 C1220.3,275.5 1216.9,276.6 1215.3,276.1 C1213.7,275.7 1212.6,273.6 1212.0,271.5 C1211.3,269.5 1211.5,266.4 1211.4,263.8 C1211.4,261.2 1210.3,257.6 1211.4,256.1 Z" fill="#999" stroke="#222" stroke-width="0.8"/>
<line x1="1007.2" y1="139.2" x2="1161.3" y2="311.3" stroke="#fff" stroke-width="4.6"/>
<line x1="1180.0" y1="296.5" x2="1159.0" y2="273.5" stroke="#fff" stroke-width="4.8"/>
<polygon points="1151.3,265.0 1164.3,270.0 1155.1,278.4" fill="#fff"/>
<text x="940.0" y="127.6" font-family='"Liberation Serif", serif' font-weight="bold" font-size="27.5" fill="#fff" textLength="151" lengthAdjust="spacingAndGlyphs">Downstream</text>
<text x="1054.3" y="337.0" font-family='"Liberation Serif", serif' font-weight="bold" font-size="27.5" fill="#fff" textLength="116" lengthAdjust="spacingAndGlyphs">Upstream</text>
<rect x="888.5" y="36.4" width="346.0" height="352.2" fill="none" stroke="#000" stroke-width="1.2"/>
<line x1="883.0" y1="63.3" x2="888.5" y2="63.3" stroke="#000" stroke-width="1.2"/>
<line x1="883.0" y1="193.6" x2="888.5" y2="193.6" stroke="#000" stroke-width="1.2"/>
<line x1="883.0" y1="323.9" x2="888.5" y2="323.9" stroke="#000" stroke-width="1.2"/>
<line x1="951.9" y1="388.6" x2="951.9" y2="393.1" stroke="#000" stroke-width="1.2"/>
<line x1="1063.1" y1="388.6" x2="1063.1" y2="393.1" stroke="#000" stroke-width="1.2"/>
<line x1="1174.4" y1="388.6" x2="1174.4" y2="393.1" stroke="#000" stroke-width="1.2"/>
<text x="877.5" y="75.7" font-family='"Liberation Serif", serif' font-size="31" text-anchor="end">30°24′N</text>
<text x="877.5" y="205.9" font-family='"Liberation Serif", serif' font-size="31" text-anchor="end">30°22′N</text>
<text x="877.5" y="336.2" font-family='"Liberation Serif", serif' font-size="31" text-anchor="end">30°20′N</text>
<text x="932.7" y="429.9" font-family='"Liberation Serif", serif' font-size="31.5" text-anchor="middle">121°48′E</text>
<text x="1064.4" y="429.9" font-family='"Liberation Serif", serif' font-size="31.5" text-anchor="middle">121°50′E</text>
<text x="1194.5" y="429.9" font-family='"Liberation Serif", serif' font-size="31.5" text-anchor="middle">122°52′E</text>
<defs><linearGradient id="cb1246" x1="0" y1="0" x2="0" y2="1"><stop offset="0.000" stop-color="#800000"/><stop offset="0.025" stop-color="#990000"/><stop offset="0.050" stop-color="#b30000"/><stop offset="0.075" stop-color="#cc0000"/><stop offset="0.100" stop-color="#e50000"/><stop offset="0.125" stop-color="#ff0000"/><stop offset="0.150" stop-color="#ff1a00"/><stop offset="0.175" stop-color="#ff3300"/><stop offset="0.200" stop-color="#ff4c00"/><stop offset="0.225" stop-color="#ff6600"/><stop offset="0.250" stop-color="#ff8000"/><stop offset="0.275" stop-color="#ff9900"/><stop offset="0.300" stop-color="#ffb300"/><stop offset="0.325" stop-color="#ffcc00"/><stop offset="0.350" stop-color="#ffe500"/><stop offset="0.375" stop-color="#ffff00"/><stop offset="0.400" stop-color="#e5ff1a"/><stop offset="0.425" stop-color="#ccff33"/><stop offset="0.450" stop-color="#b3ff4c"/><stop offset="0.475" stop-color="#99ff66"/><stop offset="0.500" stop-color="#80ff80"/><stop offset="0.525" stop-color="#66ff99"/><stop offset="0.550" stop-color="#4cffb3"/><stop offset="0.575" stop-color="#33ffcc"/><stop offset="0.600" stop-color="#1affe5"/><stop offset="0.625" stop-color="#00ffff"/><stop offset="0.650" stop-color="#00e5ff"/><stop offset="0.675" stop-color="#00ccff"/><stop offset="0.700" stop-color="#00b3ff"/><stop offset="0.725" stop-color="#0099ff"/><stop offset="0.750" stop-color="#0080ff"/><stop offset="0.775" stop-color="#0066ff"/><stop offset="0.800" stop-color="#004cff"/><stop offset="0.825" stop-color="#0033ff"/><stop offset="0.850" stop-color="#001aff"/><stop offset="0.875" stop-color="#0000ff"/><stop offset="0.900" stop-color="#0000e5"/><stop offset="0.925" stop-color="#0000cc"/><stop offset="0.950" stop-color="#0000b3"/><stop offset="0.975" stop-color="#000099"/><stop offset="1.000" stop-color="#000080"/></linearGradient></defs>
<rect x="1246.0" y="35.8" width="16.8" height="351.8" fill="url(#cb1246)" stroke="#000" stroke-width="0.9"/>
<line x1="1262.8" y1="387.6" x2="1268.3" y2="387.6" stroke="#000" stroke-width="1.1"/>
<line x1="1262.8" y1="329.0" x2="1268.3" y2="329.0" stroke="#000" stroke-width="1.1"/>
<line x1="1262.8" y1="270.3" x2="1268.3" y2="270.3" stroke="#000" stroke-width="1.1"/>
<line x1="1262.8" y1="211.7" x2="1268.3" y2="211.7" stroke="#000" stroke-width="1.1"/>
<line x1="1262.8" y1="153.1" x2="1268.3" y2="153.1" stroke="#000" stroke-width="1.1"/>
<line x1="1262.8" y1="94.4" x2="1268.3" y2="94.4" stroke="#000" stroke-width="1.1"/>
<line x1="1262.8" y1="35.8" x2="1268.3" y2="35.8" stroke="#000" stroke-width="1.1"/>
<text x="1274.5" y="398.0" font-family='"Liberation Serif", serif' font-size="31">1</text>
<text x="1274.5" y="339.3666666666667" font-family='"Liberation Serif", serif' font-size="31">2</text>
<text x="1274.5" y="280.73333333333335" font-family='"Liberation Serif", serif' font-size="31">3</text>
<text x="1274.5" y="222.10000000000002" font-family='"Liberation Serif", serif' font-size="31">4</text>
<text x="1274.5" y="163.4666666666667" font-family='"Liberation Serif", serif' font-size="31">5</text>
<text x="1274.5" y="104.83333333333334" font-family='"Liberation Serif", serif' font-size="31">6</text>
<text x="1274.5" y="46.20000000000001" font-family='"Liberation Serif", serif' font-size="31">7</text>
<line x1="1213" y1="59" x2="1213" y2="89.7" stroke="#444" stroke-width="1.6"/>
<polygon points="1213,42 1207,59.5 1219,59.5" fill="#000"/>
<text x="1213" y="87.9" font-family='"Liberation Serif", serif' font-size="31" text-anchor="middle">N</text>
<line x1="1213" y1="59" x2="1213" y2="89.7" stroke="#444" stroke-width="1.6"/>
<text transform="translate(1320,194) rotate(-90)" font-family='"Liberation Serif", serif' font-size="31.5" text-anchor="middle">Chl-<tspan font-style="italic">a</tspan> (μg/L)</text>
<defs><clipPath id="clipE"><polygon points="959.8,505.5 1273.9,580.5 1201.1,856.0 889.9,778.2"/></clipPath></defs>
<g clip-path="url(#clipE)">
<polygon points="959.8,505.5 1273.9,580.5 1201.1,856.0 889.9,778.2" fill="#0048fa" />
<path d="M926.2,692.4 C942.3,683.3 992.7,692.9 1022.4,692.4 C1052.2,692.0 1077.4,690.6 1104.9,689.7 C1132.4,688.7 1157.6,689.2 1187.4,686.9 C1217.1,684.6 1274.4,661.3 1283.6,675.9 C1292.7,690.6 1256.1,743.7 1242.3,774.9 C1228.6,806.0 1233.2,853.7 1201.1,862.8 C1169.0,872.0 1088.9,839.9 1049.9,829.9 C1011.0,819.8 988.1,816.1 967.5,802.4 C946.8,788.6 933.1,765.7 926.2,747.4 C919.4,729.1 910.2,701.6 926.2,692.4 Z" fill="#0026f2" filter="url(#b4)"/>
<path d="M981.2,708.9 C995.0,703.4 1047.6,707.1 1077.4,708.9 C1107.2,710.7 1141.6,713.5 1159.9,719.9 C1178.2,726.3 1191.9,738.2 1187.4,747.4 C1182.8,756.6 1155.3,772.6 1132.4,774.9 C1109.5,777.2 1072.8,766.6 1049.9,761.1 C1027.0,755.6 1006.4,750.6 995.0,741.9 C983.5,733.2 967.5,714.4 981.2,708.9 Z" fill="#003ef6" filter="url(#b4)"/>
<path d="M940.0,615.4 C958.3,612.7 1013.3,612.7 1049.9,612.7 C1086.6,612.7 1127.8,614.1 1159.9,615.4 C1191.9,616.8 1228.6,618.2 1242.3,620.9 C1256.1,623.7 1256.1,630.6 1242.3,631.9 C1228.6,633.3 1191.9,630.1 1159.9,629.2 C1127.8,628.3 1086.6,626.4 1049.9,626.4 C1013.3,626.4 958.3,631.0 940.0,629.2 C921.7,627.4 921.7,618.2 940.0,615.4 Z" fill="#0030f2" filter="url(#b3)"/>
<filter id="txE1" filterUnits="userSpaceOnUse" x="821.0" y="421.0" width="520" height="520"><feTurbulence type="fractalNoise" baseFrequency="0.006 0.12" numOctaves="3" seed="5"/><feColorMatrix type="matrix" values="0 0 0 0 0.227 0 0 0 0 0.627 0 0 0 0 1.000 4.0 0 0 0 -2.25"/></filter>
<g transform="rotate(-8 1081 681)"><rect x="821.0" y="421.0" width="520" height="520" filter="url(#txE1)" opacity="0.4"/></g>
<filter id="txE2" filterUnits="userSpaceOnUse" x="821.0" y="421.0" width="520" height="520"><feTurbulence type="fractalNoise" baseFrequency="0.006 0.1" numOctaves="3" seed="17"/><feColorMatrix type="matrix" values="0 0 0 0 0.000 0 0 0 0 0.094 0 0 0 0 0.863 4.0 0 0 0 -2.25"/></filter>
<g transform="rotate(12 1081 681)"><rect x="821.0" y="421.0" width="520" height="520" filter="url(#txE2)" opacity="0.3"/></g>
<polyline points="1049.9,579.7 1099.4,538.5" fill="none" stroke="#40c0ff" stroke-width="1.5" stroke-linecap="round" />
<polyline points="1055.4,577.0 1102.2,539.9" fill="none" stroke="#40c0ff" stroke-width="1.2" stroke-linecap="round" />
<polyline points="953.7,623.7 1008.7,568.7" fill="none" stroke="#2a90ff" stroke-width="2.0" stroke-linecap="round" filter="url(#b1)"/>
<polyline points="934.5,615.4 1038.9,620.9" fill="none" stroke="#3aa8ff" stroke-width="1.4" stroke-linecap="round" />
<polyline points="1077.4,582.5 1159.9,549.5" fill="none" stroke="#3090ff" stroke-width="1.4" stroke-linecap="round" />
<path d="M981.2,555.0 C992.7,549.0 1029.3,549.0 1049.9,546.7 C1070.5,544.4 1100.3,537.1 1104.9,541.2 C1109.5,545.4 1091.2,564.6 1077.4,571.5 C1063.7,578.3 1038.5,580.6 1022.4,582.5 C1006.4,584.3 988.1,587.0 981.2,582.5 C974.3,577.9 969.8,560.9 981.2,555.0 Z" fill="#1068ff" filter="url(#b4)"/>
<defs><pattern id="hatchE" width="3.0" height="3.0" patternUnits="userSpaceOnUse" patternTransform="rotate(22)"><rect width="3.0" height="3.0" fill="#e4dc18"/><rect width="3.0" height="1.0" fill="#38a4d0"/></pattern></defs>
<polygon points="923.5,642.7 924.9,655.6 926.2,668.5 928.7,683.9 932.6,698.2 939.2,713.6 946.8,730.3 955.6,745.7 964.7,761.1 974.9,777.9 985.3,794.4 994.4,806.5 889.9,778.2 885.0,774.9 885.0,637.4" fill="url(#hatchE)" />
<defs><clipPath id="clipEcore"><polygon points="912.2,687.7 918.0,689.9 923.5,707.0 933.7,732.8 945.5,758.4 954.3,784.2 958.1,795.5 888.6,778.2 885.0,774.9 885.0,687.7"/></clipPath></defs>
<g clip-path="url(#clipEcore)">
<polygon points="885.0,664.9 995.0,664.9 995.0,829.9 885.0,829.9" fill="#ffbe00" />
<path d="M885.0,684.2 C891.4,680.0 916.6,681.0 923.5,684.2 C930.4,687.4 932.6,699.3 926.2,703.4 C919.8,707.5 891.9,712.1 885.0,708.9 C878.1,705.7 878.6,688.3 885.0,684.2 Z" fill="#dce820" filter="url(#b3)"/>
<path d="M885.0,692.4 C894.2,683.7 929.9,687.8 940.0,692.4 C950.1,697.0 945.5,711.7 945.5,719.9 C945.5,728.1 950.1,737.8 940.0,741.9 C929.9,746.0 894.2,752.9 885.0,744.6 C875.8,736.4 875.8,701.1 885.0,692.4 Z" fill="#f8b400" filter="url(#b3)"/>
<polygon points="885.0,752.1 995.0,752.1 995.0,771.0 885.0,771.0" fill="#eef000" filter="url(#b1)"/>
<path d="M885.0,759.8 C888.2,757.9 900.1,758.4 904.2,759.8 C908.4,761.1 912.9,766.2 909.7,768.0 C906.5,769.8 889.1,772.1 885.0,770.8 C880.9,769.4 881.8,761.6 885.0,759.8 Z" fill="#98e468" filter="url(#b2)"/>
<polygon points="885.0,771.0 995.0,771.0 995.0,829.9 885.0,829.9" fill="#ffa600" filter="url(#b1)"/>
</g>
<polyline points="923.5,642.7 924.9,655.6 926.2,668.5 928.7,683.9 932.6,698.2 939.2,713.6 946.8,730.3 955.6,745.7 964.7,761.1 974.9,777.9 985.3,794.4 994.4,806.5" fill="none" stroke="#40b8f0" stroke-width="1.2" stroke-linecap="round" />
<path d="M932.0,639.9 C934.5,631.0 936.0,626.7 944.1,625.1 C952.2,623.4 969.5,629.4 980.7,630.0 C991.8,630.7 1000.8,629.4 1010.9,628.9 C1021.0,628.4 1029.4,627.6 1041.1,627.0 C1052.9,626.4 1068.1,625.3 1081.5,625.1 C1095.0,624.9 1108.5,625.4 1121.9,625.9 C1135.4,626.4 1150.6,626.4 1162.4,628.1 C1174.1,629.8 1187.1,634.0 1192.6,636.1 C1198.0,638.1 1195.2,636.2 1195.1,640.2 C1195.0,644.2 1194.2,655.4 1192.0,660.0 C1189.8,664.6 1190.2,665.6 1181.9,667.9 C1173.5,670.3 1155.4,672.2 1142.0,674.0 C1128.6,675.8 1116.9,677.4 1101.6,678.7 C1086.3,679.9 1066.8,680.9 1049.9,681.4 C1033.0,682.0 1016.8,681.6 1000.2,682.0 C983.5,682.3 962.0,684.2 950.1,683.6 C938.3,683.1 932.0,686.0 929.0,678.7 C926.0,671.4 929.5,648.8 932.0,639.9 Z" fill="#36c8ff" filter="url(#b1)"/>
<path d="M929.0,642.9 C933.1,636.5 945.0,637.4 953.7,637.4 C962.4,637.4 975.3,638.4 981.2,642.9 C987.2,647.5 991.7,658.5 989.5,664.9 C987.2,671.3 975.7,677.8 967.5,681.4 C959.2,685.1 946.4,687.8 940.0,686.9 C933.6,686.0 930.8,683.3 929.0,675.9 C927.1,668.6 924.9,649.3 929.0,642.9 Z" fill="#2a8cff" filter="url(#b3)"/>
<path d="M967.5,640.2 C973.4,635.8 995.0,636.5 1008.7,636.1 C1022.4,635.6 1036.2,635.8 1049.9,637.4 C1063.7,639.0 1082.9,642.0 1091.2,645.7 C1099.4,649.3 1104.0,656.2 1099.4,659.4 C1094.8,662.6 1078.8,663.8 1063.7,664.9 C1048.6,666.1 1023.8,666.8 1008.7,666.3 C993.6,665.8 979.8,666.5 973.0,662.2 C966.1,657.8 961.5,644.5 967.5,640.2 Z" fill="#62e2ff" filter="url(#b3)"/>
<path d="M1038.9,653.9 C1049.9,651.2 1084.7,653.5 1104.9,653.9 C1125.1,654.4 1148.4,654.8 1159.9,656.7 C1171.3,658.5 1178.2,662.2 1173.6,664.9 C1169.0,667.7 1148.4,671.8 1132.4,673.2 C1116.4,674.5 1093.0,673.6 1077.4,673.2 C1061.8,672.7 1045.3,673.6 1038.9,670.4 C1032.5,667.2 1027.9,656.7 1038.9,653.9 Z" fill="#48e8d0" filter="url(#b3)"/>
<path d="M1038.9,630.6 C1045.8,628.6 1067.7,626.6 1081.5,625.9 C1095.4,625.2 1108.5,626.0 1121.9,626.4 C1135.4,626.9 1150.8,626.9 1162.4,628.6 C1173.9,630.3 1186.2,634.5 1191.5,636.6 C1196.8,638.8 1194.7,639.8 1194.2,641.6 C1193.8,643.3 1194.5,646.0 1188.7,647.1 C1183.0,648.1 1169.3,647.8 1159.9,647.9 C1150.5,647.9 1141.6,647.7 1132.4,647.3 C1123.2,647.0 1114.1,646.2 1104.9,645.7 C1095.7,645.2 1086.6,644.7 1077.4,644.3 C1068.3,643.9 1056.1,644.6 1049.9,643.5 C1043.7,642.3 1042.1,639.6 1040.3,637.4 C1038.5,635.3 1032.1,632.5 1038.9,630.6 Z" fill="#c8f038" filter="url(#b1)"/>
<path d="M1115.9,628.6 C1123.2,626.9 1150.0,628.4 1162.4,629.7 C1174.7,631.1 1185.0,634.9 1190.1,636.9 C1195.2,638.9 1193.3,640.0 1192.9,641.6 C1192.4,643.1 1192.9,645.4 1187.4,646.2 C1181.9,647.1 1169.0,646.9 1159.9,646.8 C1150.7,646.7 1139.3,646.8 1132.4,645.7 C1125.5,644.6 1121.4,643.0 1118.6,640.2 C1115.9,637.3 1108.6,630.4 1115.9,628.6 Z" fill="#ffb820" filter="url(#b2)"/>
<polyline points="1093.9,646.2 1132.4,649.0 1191.5,648.4" fill="none" stroke="#2a80ff" stroke-width="2.5" stroke-linecap="round" filter="url(#b1)"/>
<path d="M1142.0,650.6 C1145.4,649.3 1152.3,649.8 1159.9,649.8 C1167.4,649.8 1181.6,649.5 1187.4,650.6 C1193.1,651.8 1193.4,654.1 1194.2,656.7 C1195.1,659.3 1194.4,664.4 1192.3,666.3 C1190.3,668.2 1187.3,667.8 1181.9,668.2 C1176.5,668.7 1165.8,669.6 1159.9,669.0 C1153.9,668.5 1149.6,666.8 1146.1,664.9 C1142.7,663.1 1139.9,660.4 1139.3,658.1 C1138.6,655.7 1138.6,652.0 1142.0,650.6 Z" fill="#ffb020" filter="url(#b1)"/>
<path d="M1151.6,653.9 C1155.8,652.6 1170.0,652.8 1176.4,653.9 C1182.8,655.1 1188.7,658.7 1190.1,660.8 C1191.5,662.9 1189.2,665.2 1184.6,666.3 C1180.0,667.4 1168.1,667.8 1162.6,667.1 C1157.1,666.4 1153.5,664.4 1151.6,662.2 C1149.8,660.0 1147.5,655.3 1151.6,653.9 Z" fill="#ff9010" filter="url(#b2)"/>
<polyline points="967.5,752.9 1005.9,759.8" fill="none" stroke="#40c8ff" stroke-width="1.6" stroke-linecap="round" />
</g>
<line x1="932.3" y1="661.4" x2="1225.8" y2="661.4" stroke="#fff" stroke-width="5.0"/>
<line x1="976.3" y1="684.2" x2="949.9" y2="684.2" stroke="#fff" stroke-width="4.5"/>
<polygon points="935.9,684.2 950.9,678.2 950.9,690.2" fill="#fff"/>
<text x="942.0" y="615.4" font-family='"Liberation Serif", serif' font-weight="bold" font-size="27.5" fill="#fff" textLength="151.5" lengthAdjust="spacingAndGlyphs">Downstream</text>
<text x="1112.8" y="708.4" font-family='"Liberation Serif", serif' font-weight="bold" font-size="27.5" fill="#fff" textLength="116" lengthAdjust="spacingAndGlyphs">Upstream</text>
<rect x="888.7" y="505.3" width="385.1" height="351.0" fill="none" stroke="#000" stroke-width="1.2"/>
<line x1="883.2" y1="546.8" x2="888.7" y2="546.8" stroke="#000" stroke-width="1.2"/>
<line x1="883.2" y1="713.6" x2="888.7" y2="713.6" stroke="#000" stroke-width="1.2"/>
<line x1="1012.6" y1="856.3" x2="1012.6" y2="860.8" stroke="#000" stroke-width="1.2"/>
<line x1="1188.7" y1="856.3" x2="1188.7" y2="860.8" stroke="#000" stroke-width="1.2"/>
<text x="880.2" y="559.3" font-family='"Liberation Serif", serif' font-size="31" text-anchor="end">30°45′N</text>
<text x="880.2" y="726.0" font-family='"Liberation Serif", serif' font-size="31" text-anchor="end">30°42′N</text>
<text x="1010.6" y="899.0" font-family='"Liberation Serif", serif' font-size="31.5" text-anchor="middle">122°00′E</text>
<text x="1186.9" y="899.0" font-family='"Liberation Serif", serif' font-size="31.5" text-anchor="middle">122°03′E</text>
<defs><linearGradient id="cb1285" x1="0" y1="0" x2="0" y2="1"><stop offset="0.000" stop-color="#800000"/><stop offset="0.025" stop-color="#990000"/><stop offset="0.050" stop-color="#b30000"/><stop offset="0.075" stop-color="#cc0000"/><stop offset="0.100" stop-color="#e50000"/><stop offset="0.125" stop-color="#ff0000"/><stop offset="0.150" stop-color="#ff1a00"/><stop offset="0.175" stop-color="#ff3300"/><stop offset="0.200" stop-color="#ff4c00"/><stop offset="0.225" stop-color="#ff6600"/><stop offset="0.250" stop-color="#ff8000"/><stop offset="0.275" stop-color="#ff9900"/><stop offset="0.300" stop-color="#ffb300"/><stop offset="0.325" stop-color="#ffcc00"/><stop offset="0.350" stop-color="#ffe500"/><stop offset="0.375" stop-color="#ffff00"/><stop offset="0.400" stop-color="#e5ff1a"/><stop offset="0.425" stop-color="#ccff33"/><stop offset="0.450" stop-color="#b3ff4c"/><stop offset="0.475" stop-color="#99ff66"/><stop offset="0.500" stop-color="#80ff80"/><stop offset="0.525" stop-color="#66ff99"/><stop offset="0.550" stop-color="#4cffb3"/><stop offset="0.575" stop-color="#33ffcc"/><stop offset="0.600" stop-color="#1affe5"/><stop offset="0.625" stop-color="#00ffff"/><stop offset="0.650" stop-color="#00e5ff"/><stop offset="0.675" stop-color="#00ccff"/><stop offset="0.700" stop-color="#00b3ff"/><stop offset="0.725" stop-color="#0099ff"/><stop offset="0.750" stop-color="#0080ff"/><stop offset="0.775" stop-color="#0066ff"/><stop offset="0.800" stop-color="#004cff"/><stop offset="0.825" stop-color="#0033ff"/><stop offset="0.850" stop-color="#001aff"/><stop offset="0.875" stop-color="#0000ff"/><stop offset="0.900" stop-color="#0000e5"/><stop offset="0.925" stop-color="#0000cc"/><stop offset="0.950" stop-color="#0000b3"/><stop offset="0.975" stop-color="#000099"/><stop offset="1.000" stop-color="#000080"/></linearGradient></defs>
<rect x="1285.2" y="505.3" width="14.8" height="351.7" fill="url(#cb1285)" stroke="#000" stroke-width="0.9"/>
<line x1="1300.0" y1="857.0" x2="1305.5" y2="857.0" stroke="#000" stroke-width="1.1"/>
<line x1="1300.0" y1="798.4" x2="1305.5" y2="798.4" stroke="#000" stroke-width="1.1"/>
<line x1="1300.0" y1="739.8" x2="1305.5" y2="739.8" stroke="#000" stroke-width="1.1"/>
<line x1="1300.0" y1="681.1" x2="1305.5" y2="681.1" stroke="#000" stroke-width="1.1"/>
<line x1="1300.0" y1="622.5" x2="1305.5" y2="622.5" stroke="#000" stroke-width="1.1"/>
<line x1="1300.0" y1="563.9" x2="1305.5" y2="563.9" stroke="#000" stroke-width="1.1"/>
<line x1="1300.0" y1="505.3" x2="1305.5" y2="505.3" stroke="#000" stroke-width="1.1"/>
<text x="1312.3" y="483.2" font-family='"Liberation Serif", serif' font-size="31">7</text>
<text x="1312.3" y="867.4" font-family='"Liberation Serif", serif' font-size="31">1</text>
<text x="1312.3" y="808.7833333333333" font-family='"Liberation Serif", serif' font-size="31">2</text>
<text x="1312.3" y="750.1666666666666" font-family='"Liberation Serif", serif' font-size="31">3</text>
<text x="1312.3" y="691.55" font-family='"Liberation Serif", serif' font-size="31">4</text>
<text x="1312.3" y="632.9333333333333" font-family='"Liberation Serif", serif' font-size="31">5</text>
<text x="1312.3" y="574.3166666666667" font-family='"Liberation Serif", serif' font-size="31">6</text>
<line x1="1252.5" y1="527.4" x2="1252.5" y2="558.1" stroke="#444" stroke-width="1.6"/>
<polygon points="1252.5,510.4 1246.5,527.9 1258.5,527.9" fill="#000"/>
<text x="1252.5" y="556.3" font-family='"Liberation Serif", serif' font-size="31" text-anchor="middle">N</text>
<line x1="1252.5" y1="527.4" x2="1252.5" y2="558.1" stroke="#444" stroke-width="1.6"/>
<text transform="translate(1358.8,664.6) rotate(-90)" font-family='"Liberation Serif", serif' font-size="31.5" text-anchor="middle">Chl-<tspan font-style="italic">a</tspan> (μg/L)</text>
<defs><clipPath id="clipF"><polygon points="944.7,967.1 1341.2,1061.0 1284.5,1319.2 888.1,1226.0"/></clipPath></defs>
<g clip-path="url(#clipF)">
<polygon points="944.7,967.1 1341.2,1061.0 1284.5,1319.2 888.1,1226.0" fill="#0014e6" />
<path d="M1074.2,1057.1 C1082.3,1052.8 1138.9,1063.6 1171.3,1070.0 C1203.6,1076.5 1241.4,1092.7 1268.3,1095.9 C1295.3,1099.2 1322.3,1063.6 1333.1,1089.4 C1343.9,1115.3 1341.2,1218.9 1333.1,1251.3 C1325.0,1283.6 1293.7,1289.0 1284.5,1283.6 C1275.4,1278.2 1286.1,1235.1 1278.1,1218.9 C1270.0,1202.7 1253.8,1199.5 1236.0,1186.5 C1218.2,1173.6 1190.1,1156.3 1171.3,1141.2 C1152.4,1126.1 1138.9,1109.9 1122.7,1095.9 C1106.5,1081.9 1066.1,1061.4 1074.2,1057.1 Z" fill="#001ae8" filter="url(#b4)"/>
<filter id="txF1" filterUnits="userSpaceOnUse" x="854.0" y="883.0" width="520" height="520"><feTurbulence type="fractalNoise" baseFrequency="0.006 0.08" numOctaves="3" seed="9"/><feColorMatrix type="matrix" values="0 0 0 0 0.063 0 0 0 0 0.188 0 0 0 0 0.910 4.0 0 0 0 -2.25"/></filter>
<g transform="rotate(10 1114 1143)"><rect x="854.0" y="883.0" width="520" height="520" filter="url(#txF1)" opacity="0.22"/></g>
<polygon points="929.5,1041.2 945.0,1048.0 957.0,1029.3 965.4,1022.1 974.2,1039.3 987.8,1051.3 1004.9,1046.1 1011.7,1056.4 1022.1,1061.6 1030.5,1060.0 1039.2,1065.2 1049.3,1073.6 1056.4,1080.4 1064.8,1085.6 1080.0,1092.7 1095.5,1097.5 1111.4,1104.0 1126.9,1100.5 1142.8,1125.4 1158.3,1139.6 1168.0,1150.6 1174.2,1161.6 1190.0,1164.9 1208.8,1171.0 1218.2,1180.4 1221.4,1193.0 1229.2,1202.4 1245.0,1205.6 1260.6,1210.2 1273.2,1216.6 1276.4,1227.6 1271.6,1237.0 1268.3,1246.4 1270.0,1252.6 1265.1,1260.6 1260.6,1266.8 1245.0,1268.4 1237.0,1266.8 1218.2,1260.6 1205.6,1252.6 1181.9,1254.2 1166.4,1252.6 1155.4,1246.4 1147.6,1237.0 1139.5,1226.0 1135.7,1235.1 1137.3,1283.6 888.1,1228.6 880.0,1228.6 880.0,1041.2" fill="#38c8fa" filter="url(#b1)"/>
<path d="M883.2,1228.6 C874.1,1218.9 887.0,1198.9 889.7,1186.5 C892.4,1174.1 892.9,1160.6 899.4,1154.2 C905.9,1147.7 918.3,1148.2 928.5,1147.7 C938.8,1147.2 951.7,1148.8 960.9,1150.9 C970.1,1153.1 972.8,1158.0 983.6,1160.6 C994.3,1163.3 1016.5,1165.0 1025.6,1167.1 C1034.8,1169.3 1035.9,1169.3 1038.6,1173.6 C1041.3,1177.9 1041.8,1185.5 1041.8,1193.0 C1041.8,1200.6 1039.7,1210.8 1038.6,1218.9 C1037.5,1227.0 1036.4,1234.3 1035.3,1241.6 C1034.3,1248.8 1047.2,1262.0 1032.1,1262.6 C1017.0,1263.1 969.5,1250.5 944.7,1244.8 C919.9,1239.1 892.4,1238.3 883.2,1228.6 Z" fill="#1c6cfc" filter="url(#b2)"/>
<path d="M886.5,1186.5 C888.6,1177.4 892.4,1175.2 899.4,1173.6 C906.4,1172.0 920.2,1174.7 928.5,1176.8 C936.9,1179.0 944.9,1180.6 949.3,1186.5 C953.6,1192.5 955.2,1204.3 954.4,1212.4 C953.7,1220.5 951.7,1231.3 944.7,1235.1 C937.7,1238.9 922.1,1236.2 912.4,1235.1 C902.7,1234.0 890.8,1236.7 886.5,1228.6 C882.2,1220.5 884.3,1195.7 886.5,1186.5 Z" fill="#38c4f8" filter="url(#b3)"/>
<path d="M963.5,1158.1 C968.3,1155.8 981.4,1156.3 993.3,1156.8 C1005.1,1157.2 1027.1,1158.4 1034.7,1160.6 C1042.2,1162.9 1039.0,1167.8 1038.6,1170.4 C1038.1,1172.9 1039.7,1175.3 1032.1,1176.2 C1024.6,1177.0 1004.6,1176.5 993.3,1175.5 C981.9,1174.6 969.1,1173.3 964.1,1170.4 C959.2,1167.4 958.6,1160.3 963.5,1158.1 Z" fill="#44dce4" filter="url(#b2)"/>
<path d="M899.4,1141.2 C906.4,1137.2 931.8,1138.9 944.7,1139.9 C957.7,1141.0 971.7,1143.2 977.1,1147.7 C982.5,1152.2 982.5,1163.9 977.1,1167.1 C971.7,1170.4 957.1,1167.7 944.7,1167.1 C932.3,1166.6 910.2,1168.2 902.7,1163.9 C895.1,1159.6 892.4,1145.2 899.4,1141.2 Z" fill="#1a5cff" filter="url(#b3)"/>
<filter id="txF2" filterUnits="userSpaceOnUse" x="854.0" y="883.0" width="520" height="520"><feTurbulence type="fractalNoise" baseFrequency="0.01 0.09" numOctaves="3" seed="21"/><feColorMatrix type="matrix" values="0 0 0 0 0.314 0 0 0 0 0.910 0 0 0 0 0.878 4.0 0 0 0 -2.25"/></filter>
<g transform="rotate(-25 1114 1143)"><rect x="854.0" y="883.0" width="520" height="520" filter="url(#txF2)" opacity="0.3"/></g>
<path d="M920.8,1057.1 C923.5,1047.7 935.9,1044.5 944.7,1042.8 C953.6,1041.2 966.8,1045.0 973.9,1047.4 C980.9,1049.8 979.8,1053.9 986.8,1057.1 C993.8,1060.3 1007.8,1063.6 1015.9,1066.8 C1024.0,1070.0 1028.9,1072.7 1035.3,1076.5 C1041.8,1080.3 1050.4,1084.6 1054.8,1089.4 C1059.1,1094.3 1062.8,1101.0 1061.2,1105.6 C1059.6,1110.2 1052.1,1115.3 1045.0,1117.0 C1038.0,1118.6 1028.9,1116.1 1019.2,1115.3 C1009.4,1114.5 997.7,1113.2 986.8,1112.1 C975.8,1111.0 963.2,1111.0 953.5,1108.9 C943.8,1106.7 934.0,1107.8 928.5,1099.2 C923.1,1090.5 918.1,1066.5 920.8,1057.1 Z" fill="#60ecc0" filter="url(#b3)"/>
<path d="M928.5,1047.4 C933.4,1043.4 941.8,1041.2 951.2,1042.8 C960.6,1044.5 978.9,1050.4 984.9,1057.1 C990.8,1063.8 988.1,1075.4 986.8,1083.0 C985.5,1090.5 983.0,1098.8 977.1,1102.4 C971.2,1106.0 958.7,1106.5 951.2,1104.3 C943.6,1102.2 936.6,1095.7 931.8,1089.4 C926.9,1083.2 922.6,1073.8 922.1,1066.8 C921.5,1059.8 923.7,1051.4 928.5,1047.4 Z" fill="#b4f048" filter="url(#b3)"/>
<path d="M920.8,1099.8 C923.4,1096.2 929.6,1094.1 935.0,1097.2 C940.5,1100.3 950.4,1111.5 953.5,1118.6 C956.5,1125.7 954.9,1135.2 953.5,1139.9 C952.1,1144.7 949.3,1147.1 945.0,1147.1 C940.8,1147.1 932.2,1144.7 927.9,1139.9 C923.6,1135.2 920.3,1125.3 919.2,1118.6 C918.0,1111.9 918.1,1103.4 920.8,1099.8 Z" fill="#c8f040" filter="url(#b2)"/>
<path d="M906.5,1083.0 C909.8,1079.2 918.9,1084.6 922.1,1089.4 C925.2,1094.3 925.3,1103.7 925.3,1112.1 C925.3,1120.5 924.8,1135.1 922.1,1139.9 C919.4,1144.8 912.4,1145.9 909.1,1141.2 C905.9,1136.6 903.1,1121.8 902.7,1112.1 C902.2,1102.4 903.3,1086.8 906.5,1083.0 Z" fill="#30b0ff" filter="url(#b3)"/>
<path d="M969.3,1072.0 C971.0,1069.7 978.8,1070.7 980.6,1073.3 C982.5,1075.8 982.3,1084.9 980.6,1087.2 C979.0,1089.5 972.5,1089.7 970.6,1087.2 C968.7,1084.6 967.6,1074.3 969.3,1072.0 Z" fill="#1030e8" filter="url(#b2)"/>
<path d="M964.1,1121.8 C968.5,1118.0 983.0,1118.8 993.3,1118.6 C1003.5,1118.3 1016.5,1119.7 1025.6,1120.2 C1034.8,1120.7 1040.2,1120.7 1048.3,1121.8 C1056.4,1122.9 1069.3,1122.9 1074.2,1126.7 C1079.0,1130.4 1080.6,1140.2 1077.4,1144.5 C1074.2,1148.8 1065.0,1151.4 1054.8,1152.6 C1044.5,1153.7 1027.2,1152.3 1015.9,1151.6 C1004.6,1150.9 994.9,1150.1 986.8,1148.3 C978.7,1146.6 971.2,1145.7 967.4,1141.2 C963.6,1136.8 959.8,1125.6 964.1,1121.8 Z" fill="#ecf010" filter="url(#b2)"/>
<path d="M984.2,1147.4 C987.1,1146.0 998.5,1146.0 1001.4,1147.4 C1004.2,1148.8 1004.2,1154.4 1001.4,1155.8 C998.5,1157.2 987.1,1157.2 984.2,1155.8 C981.3,1154.4 981.3,1148.8 984.2,1147.4 Z" fill="#ffa000" filter="url(#b2)"/>
<path d="M1048.3,1095.9 C1053.7,1093.2 1065.5,1097.5 1074.2,1099.2 C1082.8,1100.8 1092.5,1103.5 1100.1,1105.6 C1107.6,1107.8 1113.5,1107.8 1119.5,1112.1 C1125.4,1116.4 1131.9,1123.4 1135.7,1131.5 C1139.4,1139.6 1140.8,1150.4 1142.1,1160.6 C1143.5,1170.9 1144.3,1183.3 1143.8,1193.0 C1143.2,1202.7 1140.2,1210.3 1138.9,1218.9 C1137.6,1227.5 1136.2,1234.5 1135.7,1244.8 C1135.1,1255.0 1140.5,1274.5 1135.7,1280.4 C1130.8,1286.3 1114.6,1282.5 1106.5,1280.4 C1098.4,1278.2 1093.6,1272.3 1087.1,1267.4 C1080.6,1262.6 1073.1,1257.2 1067.7,1251.3 C1062.3,1245.3 1058.0,1239.4 1054.8,1231.8 C1051.5,1224.3 1049.4,1216.2 1048.3,1206.0 C1047.2,1195.7 1047.7,1181.1 1048.3,1170.4 C1048.8,1159.6 1052.6,1150.4 1051.5,1141.2 C1050.4,1132.1 1042.4,1122.9 1041.8,1115.3 C1041.3,1107.8 1042.9,1098.6 1048.3,1095.9 Z" fill="#f2ec18" filter="url(#b2)"/>
<path d="M1064.5,1128.3 C1069.3,1122.4 1082.3,1130.4 1090.4,1134.8 C1098.4,1139.1 1107.1,1146.6 1113.0,1154.2 C1118.9,1161.7 1122.2,1173.6 1126.0,1180.1 C1129.7,1186.5 1134.6,1187.6 1135.7,1193.0 C1136.7,1198.4 1135.1,1208.1 1132.4,1212.4 C1129.7,1216.7 1123.8,1214.6 1119.5,1218.9 C1115.2,1223.2 1109.8,1230.8 1106.5,1238.3 C1103.3,1245.9 1104.4,1262.0 1100.1,1264.2 C1095.7,1266.4 1086.0,1256.7 1080.6,1251.3 C1075.3,1245.9 1070.9,1239.4 1067.7,1231.8 C1064.5,1224.3 1062.3,1216.2 1061.2,1206.0 C1060.2,1195.7 1060.7,1183.3 1061.2,1170.4 C1061.8,1157.4 1059.6,1134.2 1064.5,1128.3 Z" fill="#ffbe00" filter="url(#b2)"/>
<path d="M1073.5,1147.7 C1077.3,1143.9 1093.2,1147.2 1100.1,1150.9 C1107.0,1154.7 1112.8,1164.1 1115.0,1170.4 C1117.1,1176.6 1116.6,1185.8 1113.0,1188.5 C1109.4,1191.2 1099.5,1189.0 1093.6,1186.5 C1087.7,1184.1 1080.8,1180.1 1077.4,1173.6 C1074.1,1167.1 1069.8,1151.5 1073.5,1147.7 Z" fill="#ffa000" filter="url(#b2)"/>
<path d="M1145.4,1141.2 C1150.2,1136.9 1163.7,1155.8 1171.3,1160.6 C1178.8,1165.5 1184.2,1167.7 1190.7,1170.4 C1197.2,1173.1 1205.2,1173.1 1210.1,1176.8 C1215.0,1180.6 1216.6,1188.2 1219.8,1193.0 C1223.0,1197.9 1224.1,1202.7 1229.5,1206.0 C1234.9,1209.2 1245.7,1209.7 1252.2,1212.4 C1258.6,1215.1 1265.4,1217.8 1268.3,1222.1 C1271.3,1226.5 1270.5,1232.9 1270.0,1238.3 C1269.4,1243.7 1268.1,1250.2 1265.1,1254.5 C1262.1,1258.8 1257.0,1262.9 1252.2,1264.2 C1247.3,1265.6 1241.9,1263.9 1236.0,1262.6 C1230.1,1261.2 1222.0,1258.5 1216.6,1256.1 C1211.2,1253.7 1209.6,1249.1 1203.6,1248.0 C1197.7,1246.9 1187.4,1249.6 1181.0,1249.6 C1174.5,1249.6 1169.1,1249.4 1164.8,1248.0 C1160.5,1246.7 1157.8,1244.3 1155.1,1241.6 C1152.4,1238.9 1150.8,1235.6 1148.6,1231.8 C1146.5,1228.1 1143.2,1226.5 1142.1,1218.9 C1141.1,1211.3 1141.6,1199.5 1142.1,1186.5 C1142.7,1173.6 1140.5,1145.5 1145.4,1141.2 Z" fill="#c4f440" filter="url(#b2)"/>
<path d="M1155.1,1154.2 C1161.0,1151.5 1179.4,1165.0 1187.4,1170.4 C1195.5,1175.7 1203.6,1180.6 1203.6,1186.5 C1203.6,1192.5 1193.9,1202.7 1187.4,1206.0 C1181.0,1209.2 1170.7,1209.2 1164.8,1206.0 C1158.9,1202.7 1153.5,1195.2 1151.8,1186.5 C1150.2,1177.9 1149.1,1156.9 1155.1,1154.2 Z" fill="#e4f020" filter="url(#b3)"/>
<path d="M1087.1,1218.9 C1089.0,1217.3 1095.7,1219.4 1100.1,1222.1 C1104.4,1224.8 1109.8,1230.8 1113.0,1235.1 C1116.2,1239.4 1119.5,1245.3 1119.5,1248.0 C1119.5,1250.7 1116.2,1252.3 1113.0,1251.3 C1109.8,1250.2 1104.1,1244.8 1100.1,1241.6 C1096.0,1238.3 1090.9,1235.6 1088.7,1231.8 C1086.6,1228.1 1085.2,1220.5 1087.1,1218.9 Z" fill="#0c30f0" filter="url(#b1)"/>
<polyline points="1108.2,1244.8 1119.5,1261.0 1132.4,1282.0" fill="none" stroke="#0c30f0" stroke-width="6" stroke-linecap="round" filter="url(#b1)"/>
<polyline points="1077.4,1261.0 1087.1,1277.2 1100.1,1283.6" fill="none" stroke="#0c30f0" stroke-width="5" stroke-linecap="round" filter="url(#b1)"/>
</g>
<polygon points="1043.4,1235.1 1051.5,1228.6 1061.2,1222.1 1074.2,1217.3 1075.8,1223.8 1072.6,1233.5 1074.2,1244.8 1070.9,1254.5 1061.2,1257.7 1054.8,1252.9 1048.3,1248.7 1041.8,1244.8" fill="#9b9b9b" stroke="#111" stroke-width="0.8" stroke-linejoin="round"/>
<polygon points="1118.2,1218.9 1122.7,1215.7 1127.6,1214.7 1132.4,1213.1 1129.8,1218.9 1125.0,1220.5 1121.1,1223.4" fill="#9b9b9b" stroke="#111" stroke-width="0.8" stroke-linejoin="round"/>
<polygon points="1158.6,1222.8 1163.2,1221.5 1168.0,1226.0 1172.6,1231.5 1169.6,1234.8 1163.2,1234.8 1158.6,1237.0 1152.2,1242.5 1151.5,1240.3 1157.0,1233.8 1157.0,1227.6" fill="#9b9b9b" stroke="#111" stroke-width="0.8" stroke-linejoin="round"/>
<polygon points="1177.4,1219.9 1183.6,1218.3 1190.0,1217.9 1197.2,1218.9 1199.4,1222.1 1196.2,1227.0 1190.0,1229.3 1183.6,1227.0 1178.1,1224.4 1176.4,1221.5" fill="#9b9b9b" stroke="#111" stroke-width="0.8" stroke-linejoin="round"/>
<polygon points="1201.0,1227.6 1205.6,1224.4 1212.0,1222.8 1215.0,1218.3 1219.8,1216.6 1224.3,1219.9 1226.0,1226.0 1223.0,1230.9 1218.2,1234.8 1212.0,1238.6 1205.6,1239.3 1200.1,1235.4 1198.4,1230.9" fill="#9b9b9b" stroke="#111" stroke-width="0.8" stroke-linejoin="round"/>
<polygon points="1245.0,1227.0 1250.6,1226.0 1256.1,1228.6 1250.6,1230.6" fill="#9b9b9b" stroke="#111" stroke-width="0.8" stroke-linejoin="round"/>
<polygon points="1263.8,1232.8 1268.3,1231.2 1272.2,1235.7 1267.7,1239.0" fill="#9b9b9b" stroke="#111" stroke-width="0.8" stroke-linejoin="round"/>
<polygon points="1245.0,1256.8 1252.8,1256.8 1260.6,1258.4 1266.1,1262.3 1265.4,1267.8 1260.6,1269.4 1255.7,1266.8 1249.6,1262.3" fill="#9b9b9b" stroke="#111" stroke-width="0.8" stroke-linejoin="round"/>
<polygon points="1101.4,1275.5 1108.2,1273.9 1116.2,1277.8 1120.8,1283.3 1120.1,1288.2 1115.3,1288.8 1108.2,1284.3 1102.0,1279.4" fill="#9b9b9b" stroke="#111" stroke-width="0.8" stroke-linejoin="round"/>
<polygon points="1073.5,1256.1 1080.6,1252.9 1090.4,1254.5 1087.1,1259.4 1077.4,1259.4" fill="#9b9b9b" stroke="#111" stroke-width="0.8" stroke-linejoin="round"/>
<polygon points="1142.1,1182.7 1146.0,1183.3 1147.0,1190.4 1142.8,1191.1" fill="#9b9b9b" stroke="#111" stroke-width="0.8" stroke-linejoin="round"/>
<polygon points="1210.7,1242.8 1216.6,1240.3 1223.7,1240.9 1219.8,1245.4 1212.7,1246.1" fill="#9b9b9b" stroke="#111" stroke-width="0.8" stroke-linejoin="round"/>
<polygon points="1242.5,1237.7 1245.7,1236.7 1248.0,1240.3 1243.8,1242.2" fill="#9b9b9b" stroke="#111" stroke-width="0.8" stroke-linejoin="round"/>
<polygon points="1095.5,1240.6 1099.7,1239.6 1101.7,1244.1 1096.8,1244.8" fill="#9b9b9b" stroke="#111" stroke-width="0.8" stroke-linejoin="round"/>
<polygon points="1140.5,1247.1 1143.4,1246.1 1144.4,1250.0 1141.2,1250.3" fill="#9b9b9b" stroke="#111" stroke-width="0.8" stroke-linejoin="round"/>
<polygon points="1088.7,1319.2 1106.5,1312.8 1117.9,1303.7 1126.0,1303.0 1135.7,1312.8 1151.8,1319.2" fill="#9b9b9b" stroke="#111" stroke-width="0.8"/>
<polygon points="1155.1,1311.1 1159.9,1310.2 1164.8,1314.4 1161.6,1316.0" fill="#9b9b9b" stroke="#111" stroke-width="0.8"/>
<line x1="1132.4" y1="1107.2" x2="1203.6" y2="1265.8" stroke="#fff" stroke-width="4.8"/>
<line x1="1172.9" y1="1131.5" x2="1162.5" y2="1110.8" stroke="#fff" stroke-width="4.5"/>
<polygon points="1156.7,1099.2 1168.3,1109.0 1157.6,1114.4" fill="#fff"/>
<text x="1066.5" y="1090.1" font-family='"Liberation Serif", serif' font-weight="bold" font-size="27.5" fill="#fff" textLength="150.5" lengthAdjust="spacingAndGlyphs">Downstream</text>
<text x="1166.0" y="1290.1" font-family='"Liberation Serif", serif' font-weight="bold" font-size="27.5" fill="#fff" textLength="115.5" lengthAdjust="spacingAndGlyphs">Upstream</text>
<rect x="887.2" y="967.1" width="453.8" height="352.2" fill="none" stroke="#000" stroke-width="1.2"/>
<line x1="881.7" y1="1031.7" x2="887.2" y2="1031.7" stroke="#000" stroke-width="1.2"/>
<line x1="881.7" y1="1170.6" x2="887.2" y2="1170.6" stroke="#000" stroke-width="1.2"/>
<line x1="881.7" y1="1310.1" x2="887.2" y2="1310.1" stroke="#000" stroke-width="1.2"/>
<line x1="954.6" y1="1319.3" x2="954.6" y2="1323.8" stroke="#000" stroke-width="1.2"/>
<line x1="1104.9" y1="1319.3" x2="1104.9" y2="1323.8" stroke="#000" stroke-width="1.2"/>
<line x1="1254.7" y1="1319.3" x2="1254.7" y2="1323.8" stroke="#000" stroke-width="1.2"/>
<text x="877.5" y="1042.0" font-family='"Liberation Serif", serif' font-size="31" text-anchor="end">29°30′N</text>
<text x="877.5" y="1180.9" font-family='"Liberation Serif", serif' font-size="31" text-anchor="end">29°28′N</text>
<text x="877.5" y="1320.4" font-family='"Liberation Serif", serif' font-size="31" text-anchor="end">29°26′N</text>
<text x="959.8" y="1357.3" font-family='"Liberation Serif", serif' font-size="31.5" text-anchor="middle">122°09′E</text>
<text x="1106.6" y="1357.3" font-family='"Liberation Serif", serif' font-size="31.5" text-anchor="middle">122°12′E</text>
<text x="1257.4" y="1357.3" font-family='"Liberation Serif", serif' font-size="31.5" text-anchor="middle">122°15′E</text>
<defs><linearGradient id="cb1352" x1="0" y1="0" x2="0" y2="1"><stop offset="0.000" stop-color="#800000"/><stop offset="0.025" stop-color="#990000"/><stop offset="0.050" stop-color="#b30000"/><stop offset="0.075" stop-color="#cc0000"/><stop offset="0.100" stop-color="#e50000"/><stop offset="0.125" stop-color="#ff0000"/><stop offset="0.150" stop-color="#ff1a00"/><stop offset="0.175" stop-color="#ff3300"/><stop offset="0.200" stop-color="#ff4c00"/><stop offset="0.225" stop-color="#ff6600"/><stop offset="0.250" stop-color="#ff8000"/><stop offset="0.275" stop-color="#ff9900"/><stop offset="0.300" stop-color="#ffb300"/><stop offset="0.325" stop-color="#ffcc00"/><stop offset="0.350" stop-color="#ffe500"/><stop offset="0.375" stop-color="#ffff00"/><stop offset="0.400" stop-color="#e5ff1a"/><stop offset="0.425" stop-color="#ccff33"/><stop offset="0.450" stop-color="#b3ff4c"/><stop offset="0.475" stop-color="#99ff66"/><stop offset="0.500" stop-color="#80ff80"/><stop offset="0.525" stop-color="#66ff99"/><stop offset="0.550" stop-color="#4cffb3"/><stop offset="0.575" stop-color="#33ffcc"/><stop offset="0.600" stop-color="#1affe5"/><stop offset="0.625" stop-color="#00ffff"/><stop offset="0.650" stop-color="#00e5ff"/><stop offset="0.675" stop-color="#00ccff"/><stop offset="0.700" stop-color="#00b3ff"/><stop offset="0.725" stop-color="#0099ff"/><stop offset="0.750" stop-color="#0080ff"/><stop offset="0.775" stop-color="#0066ff"/><stop offset="0.800" stop-color="#004cff"/><stop offset="0.825" stop-color="#0033ff"/><stop offset="0.850" stop-color="#001aff"/><stop offset="0.875" stop-color="#0000ff"/><stop offset="0.900" stop-color="#0000e5"/><stop offset="0.925" stop-color="#0000cc"/><stop offset="0.950" stop-color="#0000b3"/><stop offset="0.975" stop-color="#000099"/><stop offset="1.000" stop-color="#000080"/></linearGradient></defs>
<rect x="1352.0" y="967.1" width="16.0" height="352.2" fill="url(#cb1352)" stroke="#000" stroke-width="0.9"/>
<line x1="1368.0" y1="1319.3" x2="1373.5" y2="1319.3" stroke="#000" stroke-width="1.1"/>
<line x1="1368.0" y1="1260.6" x2="1373.5" y2="1260.6" stroke="#000" stroke-width="1.1"/>
<line x1="1368.0" y1="1201.9" x2="1373.5" y2="1201.9" stroke="#000" stroke-width="1.1"/>
<line x1="1368.0" y1="1143.2" x2="1373.5" y2="1143.2" stroke="#000" stroke-width="1.1"/>
<line x1="1368.0" y1="1084.5" x2="1373.5" y2="1084.5" stroke="#000" stroke-width="1.1"/>
<line x1="1368.0" y1="1025.8" x2="1373.5" y2="1025.8" stroke="#000" stroke-width="1.1"/>
<line x1="1368.0" y1="967.1" x2="1373.5" y2="967.1" stroke="#000" stroke-width="1.1"/>
<text x="1379.0" y="1329.7" font-family='"Liberation Serif", serif' font-size="31">1</text>
<text x="1379.0" y="1271.0" font-family='"Liberation Serif", serif' font-size="31">2</text>
<text x="1379.0" y="1212.3000000000002" font-family='"Liberation Serif", serif' font-size="31">3</text>
<text x="1379.0" y="1153.6000000000001" font-family='"Liberation Serif", serif' font-size="31">4</text>
<text x="1379.0" y="1094.9" font-family='"Liberation Serif", serif' font-size="31">5</text>
<text x="1379.0" y="1036.2" font-family='"Liberation Serif", serif' font-size="31">6</text>
<text x="1379.0" y="977.4999999999999" font-family='"Liberation Serif", serif' font-size="31">7</text>
<line x1="1319.1" y1="991.8" x2="1319.1" y2="1022.5" stroke="#444" stroke-width="1.6"/>
<polygon points="1319.1,974.8 1313.1,992.3 1325.1,992.3" fill="#000"/>
<text x="1319.1" y="1020.6999999999999" font-family='"Liberation Serif", serif' font-size="31" text-anchor="middle">N</text>
<line x1="1319.1" y1="991.8" x2="1319.1" y2="1022.5" stroke="#444" stroke-width="1.6"/>
<text transform="translate(1428,1126.4) rotate(-90)" font-family='"Liberation Serif", serif' font-size="31.5" text-anchor="middle">Chl-<tspan font-style="italic">a</tspan> (μg/L)</text>
</svg>
</body></html>
